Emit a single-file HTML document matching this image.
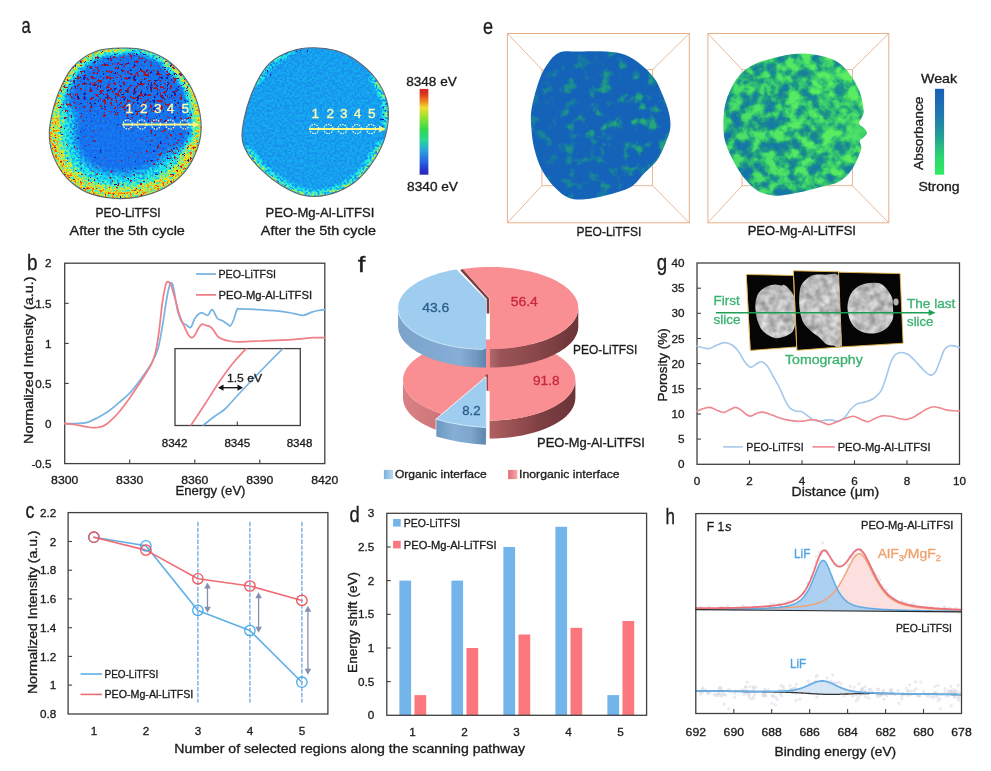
<!DOCTYPE html>
<html><head><meta charset="utf-8"><title>Figure</title>
<style>html,body{margin:0;padding:0;background:#fff;}svg{display:block;font-family:'Liberation Sans', sans-serif;}text{stroke-width:0.32px;}svg{opacity:0.999;}</style></head>
<body><svg width="991" height="771" viewBox="0 0 991 771">
<defs><filter id="soft" x="-5%" y="-5%" width="110%" height="110%"><feGaussianBlur stdDeviation="0.45"/></filter><filter id="bl4" x="-20%" y="-20%" width="140%" height="140%"><feGaussianBlur stdDeviation="5"/></filter><filter id="bl3" x="-20%" y="-20%" width="140%" height="140%"><feGaussianBlur stdDeviation="2.6"/></filter><filter id="bl6" x="-20%" y="-20%" width="140%" height="140%"><feGaussianBlur stdDeviation="10"/></filter><filter id="ha1" x="0" y="0" width="100%" height="100%" color-interpolation-filters="sRGB">
<feTurbulence type="fractalNoise" baseFrequency="0.4" numOctaves="2" seed="4" result="t"/>
<feColorMatrix in="t" type="matrix" values="0 0 0 0 1  0 0 0 0 0  0 0 1 0 0  0 0 0 0 1" result="n"/>
<feComponentTransfer in="n" result="n2"><feFuncB type="linear" slope="2.3" intercept="-0.65"/></feComponentTransfer>
<feComposite in="SourceGraphic" in2="n2" operator="arithmetic" k1="1" k2="0" k3="0" k4="0" result="p"/>
<feColorMatrix in="p" type="matrix" values="1 0 1 0 0  1 0 1 0 0  1 0 1 0 0  0 0 0 1 0" result="v"/>
<feComponentTransfer in="v"><feFuncR type="table" tableValues="0.080 0.080 0.080 0.080 0.080 0.080 0.080 0.300 0.520 0.740 0.960 0.960 0.960 0.960 0.960 0.740 0.520"/><feFuncG type="table" tableValues="0.060 0.060 0.060 0.275 0.490 0.705 0.920 0.920 0.920 0.920 0.920 0.705 0.490 0.275 0.060 0.060 0.060"/><feFuncB type="table" tableValues="0.510 0.725 0.940 0.940 0.940 0.940 0.940 0.725 0.510 0.295 0.080 0.080 0.080 0.080 0.080 0.080 0.080"/></feComponentTransfer>
</filter><clipPath id="ca1"><path d="M124.1,48.0C116.0,48.2 104.1,48.2 95.6,51.4C87.0,54.6 79.0,60.2 72.8,67.1C66.6,74.0 62.2,83.8 58.5,92.8C54.8,101.8 52.0,113.7 50.5,121.3C49.0,128.9 48.8,132.2 49.4,138.4C50.0,144.6 51.3,151.7 54.3,158.4C57.2,165.1 61.6,172.7 67.1,178.4C72.6,184.1 79.5,189.3 87.1,192.6C94.7,195.9 104.2,197.6 112.7,198.3C121.2,199.0 129.8,198.6 138.4,196.9C147.0,195.2 156.5,192.3 164.1,188.3C171.7,184.3 178.6,179.1 184.1,172.7C189.6,166.3 194.1,157.4 196.9,149.8C199.8,142.2 201.2,135.1 201.2,127.0C201.2,118.9 199.5,109.4 196.9,101.3C194.3,93.2 190.5,85.4 185.5,78.5C180.5,71.6 173.8,64.8 166.9,60.0C160.0,55.2 151.2,52.0 144.1,50.0C137.0,48.0 132.2,47.8 124.1,48.0Z"/></clipPath><filter id="sr1" x="0" y="0" width="100%" height="100%" color-interpolation-filters="sRGB">
<feTurbulence type="fractalNoise" baseFrequency="0.3" numOctaves="2" seed="21" result="t"/>
<feColorMatrix in="t" type="matrix" values="0 0 0 0 1  0 0 0 0 1  0 0 0 0 1  1 0 0 0 0" result="n"/>
<feComposite in="SourceGraphic" in2="n" operator="arithmetic" k1="1" k2="0" k3="0" k4="0" result="m"/>
<feComponentTransfer in="m" result="th"><feFuncA type="discrete" tableValues="0 0 0 0 0 0 1 1 1 1"/></feComponentTransfer>
<feColorMatrix in="th" type="matrix" values="0 0 0 0 0.64  0 0 0 0 0.08  0 0 0 0 0.18  0 0 0 1 0"/>
</filter><filter id="sb1" x="0" y="0" width="100%" height="100%" color-interpolation-filters="sRGB">
<feTurbulence type="fractalNoise" baseFrequency="0.3" numOctaves="2" seed="33" result="t"/>
<feColorMatrix in="t" type="matrix" values="0 0 0 0 1  0 0 0 0 1  0 0 0 0 1  0 1 0 0 0" result="n"/>
<feComposite in="SourceGraphic" in2="n" operator="arithmetic" k1="1" k2="0" k3="0" k4="0" result="m"/>
<feComponentTransfer in="m" result="th"><feFuncA type="discrete" tableValues="0 0 0 0 0 0 1 1 1 1"/></feComponentTransfer>
<feColorMatrix in="th" type="matrix" values="0 0 0 0 0.1  0 0 0 0 0.1  0 0 0 0 0.6  0 0 0 1 0"/>
</filter><filter id="ha2" x="0" y="0" width="100%" height="100%" color-interpolation-filters="sRGB">
<feTurbulence type="fractalNoise" baseFrequency="0.4" numOctaves="2" seed="12" result="t"/>
<feColorMatrix in="t" type="matrix" values="0 0 0 0 1  0 0 0 0 0  0 0 1 0 0  0 0 0 0 1" result="n"/>
<feComponentTransfer in="n" result="n2"><feFuncB type="linear" slope="3.2" intercept="-1.1"/></feComponentTransfer>
<feComposite in="SourceGraphic" in2="n2" operator="arithmetic" k1="1" k2="0" k3="0" k4="0" result="p"/>
<feColorMatrix in="p" type="matrix" values="1 0 1 0 0  1 0 1 0 0  1 0 1 0 0  0 0 0 1 0" result="v"/>
<feComponentTransfer in="v"><feFuncR type="table" tableValues="0.080 0.080 0.080 0.080 0.080 0.080 0.080 0.300 0.520 0.740 0.960 0.960 0.960 0.960 0.960 0.740 0.520"/><feFuncG type="table" tableValues="0.060 0.060 0.060 0.275 0.490 0.705 0.920 0.920 0.920 0.920 0.920 0.705 0.490 0.275 0.060 0.060 0.060"/><feFuncB type="table" tableValues="0.510 0.725 0.940 0.940 0.940 0.940 0.940 0.725 0.510 0.295 0.080 0.080 0.080 0.080 0.080 0.080 0.080"/></feComponentTransfer>
</filter><clipPath id="ca2"><path d="M312.8,47.7C305.2,47.9 297.0,48.9 289.9,51.4C282.8,53.9 275.5,57.8 270.0,62.8C264.5,67.8 260.9,74.0 257.1,81.4C253.3,88.8 249.6,98.0 247.1,107.0C244.6,116.0 242.0,128.0 242.0,135.6C242.0,143.2 243.9,147.0 247.1,152.7C250.3,158.4 255.7,164.3 261.4,169.8C267.1,175.3 274.3,181.2 281.4,185.5C288.5,189.8 296.6,193.9 304.2,195.5C311.8,197.1 319.4,196.7 327.0,195.0C334.6,193.3 343.2,189.7 349.9,185.5C356.6,181.3 361.8,176.2 367.0,169.8C372.2,163.4 377.8,154.6 381.3,147.0C384.8,139.4 386.9,131.8 387.8,124.2C388.8,116.6 389.0,108.9 387.0,101.3C385.0,93.7 380.8,85.4 375.6,78.5C370.4,71.6 362.3,64.7 355.6,60.0C348.9,55.3 342.7,52.5 335.6,50.5C328.5,48.5 320.4,47.6 312.8,47.7Z"/></clipPath><filter id="sb2" x="0" y="0" width="100%" height="100%" color-interpolation-filters="sRGB">
<feTurbulence type="fractalNoise" baseFrequency="0.43" numOctaves="2" seed="7" result="t"/>
<feColorMatrix in="t" type="matrix" values="0 0 0 0 1  0 0 0 0 1  0 0 0 0 1  0 1 0 0 0" result="n"/>
<feComposite in="SourceGraphic" in2="n" operator="arithmetic" k1="1" k2="0" k3="0" k4="0" result="m"/>
<feComponentTransfer in="m" result="th"><feFuncA type="discrete" tableValues="0 0 0 0 0 0 1 1 1 1"/></feComponentTransfer>
<feColorMatrix in="th" type="matrix" values="0 0 0 0 0.08  0 0 0 0 0.12  0 0 0 0 0.62  0 0 0 1 0"/>
</filter><linearGradient id="jetbar" x1="0" y1="0" x2="0" y2="1"><stop offset="0" stop-color="#D2282A"/><stop offset="0.05" stop-color="#D83020"/><stop offset="0.13" stop-color="#EB781E"/><stop offset="0.22" stop-color="#F0DC32"/><stop offset="0.33" stop-color="#96E132"/><stop offset="0.48" stop-color="#32D750"/><stop offset="0.6" stop-color="#28D796"/><stop offset="0.72" stop-color="#2DA0DC"/><stop offset="0.85" stop-color="#2864E1"/><stop offset="0.95" stop-color="#2832C8"/><stop offset="1" stop-color="#2828B4"/></linearGradient><clipPath id="cpb"><rect x="175" y="348.6" width="125.30000000000001" height="76.89999999999998"/></clipPath><filter id="he1" x="0" y="0" width="100%" height="100%" color-interpolation-filters="sRGB">
<feTurbulence type="fractalNoise" baseFrequency="0.085" numOctaves="3" seed="3" result="t"/>
<feColorMatrix in="t" type="matrix" values="0 0 0 0 1  0 0 0 0 0  0 0 1 0 0  0 0 0 0 1" result="n"/>
<feComponentTransfer in="n" result="n2"><feFuncB type="linear" slope="4.5" intercept="-2.4"/></feComponentTransfer>
<feComposite in="SourceGraphic" in2="n2" operator="arithmetic" k1="1" k2="0" k3="0" k4="0" result="p"/>
<feColorMatrix in="p" type="matrix" values="1 0 1 0 0  1 0 1 0 0  1 0 1 0 0  0 0 0 1 0" result="v"/>
<feComponentTransfer in="v"><feFuncR type="table" tableValues="0.08 0.09 0.12 0.22 0.36"/><feFuncG type="table" tableValues="0.39 0.48 0.60 0.80 0.93"/><feFuncB type="table" tableValues="0.725 0.64 0.52 0.43 0.38"/></feComponentTransfer>
</filter><clipPath id="ce1"><path d="M558.5,52.9C564.3,50.2 571.8,51.8 579.8,51.6C587.8,51.4 598.9,51.1 606.4,51.6C613.9,52.1 619.5,52.8 625.0,54.8C630.5,56.8 634.7,59.7 639.6,63.6C644.5,67.5 650.5,73.1 654.3,78.2C658.1,83.3 659.8,88.3 662.2,94.1C664.6,99.9 667.6,107.0 668.9,112.8C670.2,118.6 670.9,123.4 670.2,128.7C669.5,134.0 667.1,139.4 664.9,144.7C662.7,150.0 660.4,155.7 656.9,160.6C653.4,165.5 648.0,169.5 643.6,173.9C639.2,178.3 636.5,183.6 630.3,187.2C624.1,190.8 613.9,193.2 606.4,195.2C598.9,197.2 591.3,198.8 585.1,199.2C578.9,199.6 574.0,199.7 569.1,197.9C564.2,196.1 560.3,193.0 555.9,188.6C551.5,184.2 546.1,177.7 542.6,171.3C539.1,164.9 536.5,157.1 534.6,150.0C532.7,142.9 531.9,135.3 531.4,128.7C530.9,122.0 530.4,117.2 531.4,110.1C532.4,103.0 534.9,93.3 537.2,86.2C539.5,79.1 541.7,73.1 545.2,67.6C548.8,62.0 552.7,55.6 558.5,52.9Z"/></clipPath><radialGradient id="ge1" gradientUnits="userSpaceOnUse" cx="630" cy="120" r="100"><stop offset="0" stop-color="rgb(0,0,158)"/><stop offset="0.5" stop-color="rgb(0,0,128)"/><stop offset="1" stop-color="rgb(0,0,76)"/></radialGradient><filter id="bl2e" x="-30%" y="-30%" width="160%" height="160%"><feGaussianBlur stdDeviation="2"/></filter><filter id="he2" x="0" y="0" width="100%" height="100%" color-interpolation-filters="sRGB">
<feTurbulence type="fractalNoise" baseFrequency="0.085" numOctaves="3" seed="8" result="t"/>
<feColorMatrix in="t" type="matrix" values="0 0 0 0 1  0 0 0 0 0  0 0 1 0 0  0 0 0 0 1" result="n"/>
<feComponentTransfer in="n" result="n2"><feFuncB type="linear" slope="2.6" intercept="-0.75"/></feComponentTransfer>
<feComposite in="SourceGraphic" in2="n2" operator="arithmetic" k1="1" k2="0" k3="0" k4="0" result="p"/>
<feColorMatrix in="p" type="matrix" values="1 0 1 0 0  1 0 1 0 0  1 0 1 0 0  0 0 0 1 0" result="v"/>
<feComponentTransfer in="v"><feFuncR type="table" tableValues="0.08 0.09 0.12 0.22 0.36"/><feFuncG type="table" tableValues="0.39 0.48 0.60 0.80 0.93"/><feFuncB type="table" tableValues="0.725 0.64 0.52 0.43 0.38"/></feComponentTransfer>
</filter><clipPath id="ce2"><path d="M806.4,53.7C797.5,53.2 788.7,54.5 779.8,56.4C770.9,58.3 760.3,61.3 753.2,64.9C746.1,68.5 741.6,72.4 737.2,78.2C732.8,84.0 728.9,92.4 726.6,99.5C724.3,106.6 723.6,113.6 723.4,120.7C723.2,127.8 723.4,134.9 725.3,142.0C727.2,149.1 731.3,157.1 734.6,163.3C737.9,169.5 741.2,174.7 745.2,179.3C749.2,184.0 753.2,188.5 758.5,191.2C763.8,193.9 770.5,195.5 777.1,195.7C783.8,195.9 791.3,194.0 798.4,192.6C805.5,191.2 813.1,189.0 819.7,187.2C826.4,185.4 833.0,184.8 838.3,181.9C843.6,179.0 847.8,175.2 851.6,169.9C855.4,164.6 859.5,154.8 860.9,150.0C862.3,145.2 859.4,143.1 859.8,141.0C860.2,138.9 862.3,138.8 863.5,137.5C864.7,136.2 866.9,134.6 867.0,133.0C867.1,131.4 865.3,129.6 864.0,128.0C862.7,126.4 859.3,125.2 859.0,123.4C858.7,121.6 861.2,119.2 862.0,117.0C862.8,114.8 864.0,114.3 863.6,110.1C863.2,105.8 862.1,97.7 859.6,91.5C857.1,85.3 853.3,78.2 848.9,72.9C844.5,67.6 840.1,62.8 833.0,59.6C825.9,56.4 815.3,54.2 806.4,53.7Z"/></clipPath><radialGradient id="ge2" gradientUnits="userSpaceOnUse" cx="850" cy="110" r="140"><stop offset="0" stop-color="rgb(107,0,153)"/><stop offset="0.5" stop-color="rgb(69,0,178)"/><stop offset="1" stop-color="rgb(38,0,178)"/></radialGradient><linearGradient id="bgbar" x1="0" y1="0" x2="0" y2="1"><stop offset="0" stop-color="#195FB9"/><stop offset="0.3" stop-color="#2078B0"/><stop offset="0.55" stop-color="#259F96"/><stop offset="0.8" stop-color="#2AD870"/><stop offset="1" stop-color="#2CEC60"/></linearGradient><linearGradient id="rside" x1="0" y1="0" x2="1" y2="0"><stop offset="0" stop-color="#B56A6C"/><stop offset="0.45" stop-color="#A85A5C"/><stop offset="0.62" stop-color="#9A4F52"/><stop offset="0.8" stop-color="#7E3F42"/><stop offset="1" stop-color="#6A3437"/></linearGradient><linearGradient id="bside" x1="0" y1="0" x2="1" y2="0"><stop offset="0" stop-color="#6E97BF"/><stop offset="0.35" stop-color="#86AFD6"/><stop offset="0.7" stop-color="#7FA6CB"/><stop offset="1" stop-color="#5C86AE"/></linearGradient><linearGradient id="rside2" x1="0" y1="0" x2="1" y2="0"><stop offset="0" stop-color="#D98084"/><stop offset="0.3" stop-color="#C87276"/><stop offset="0.55" stop-color="#A85A5C"/><stop offset="0.8" stop-color="#7E3F42"/><stop offset="1" stop-color="#6A3437"/></linearGradient><linearGradient id="rsideU" gradientUnits="userSpaceOnUse" x1="490" y1="0" x2="578" y2="0"><stop offset="0" stop-color="#B0686B"/><stop offset="0.12" stop-color="#9A5457"/><stop offset="0.5" stop-color="#8A484B"/><stop offset="1" stop-color="#6A3437"/></linearGradient><linearGradient id="bsideU" gradientUnits="userSpaceOnUse" x1="398" y1="0" x2="486" y2="0"><stop offset="0" stop-color="#7CA3C9"/><stop offset="0.3" stop-color="#7FA8D0"/><stop offset="0.7" stop-color="#86AED6"/><stop offset="0.9" stop-color="#6F97BF"/><stop offset="1" stop-color="#5B84AC"/></linearGradient><linearGradient id="lgb" x1="0" y1="0" x2="1" y2="0"><stop offset="0" stop-color="#7FB0DA"/><stop offset="1" stop-color="#B8DCF5"/></linearGradient><linearGradient id="lgr" x1="0" y1="0" x2="1" y2="0"><stop offset="0" stop-color="#E07078"/><stop offset="1" stop-color="#F9A6AA"/></linearGradient><filter id="tn" x="0" y="0" width="100%" height="100%" color-interpolation-filters="sRGB"><feTurbulence type="fractalNoise" baseFrequency="0.13" numOctaves="2" seed="7" result="n"/><feColorMatrix in="n" type="matrix" values="0.5 0 0 0 0.49  0.5 0 0 0 0.49  0.5 0 0 0 0.49  0 0 0 0 1"/><feComposite in2="SourceGraphic" operator="in"/></filter><filter id="bl1" x="-10%" y="-10%" width="120%" height="120%"><feGaussianBlur stdDeviation="0.6"/></filter><clipPath id="cq2"><path d="M793.7,270.8L838.5,271.8L841.6,346.9L797.2,350.3Z"/></clipPath></defs>
<rect width="991" height="771" fill="#fff"/>
<text x="21.5" y="33.0" font-size="22.5" fill="#1c1c1c" stroke="#1c1c1c" textLength="9.2" lengthAdjust="spacingAndGlyphs" >a</text>
<g clip-path="url(#ca1)"><g filter="url(#soft)"><g filter="url(#ha1)"><rect x="40" y="40" width="170" height="166" fill="rgb(57,0,8)"/><g filter="url(#bl4)"><path d="M50.5,121.3C50.3,124.2 48.8,132.2 49.4,138.4C50.0,144.6 51.3,151.7 54.3,158.4C57.2,165.1 61.6,172.7 67.1,178.4C72.6,184.1 79.5,189.3 87.1,192.6C94.7,195.9 104.2,197.6 112.7,198.3C121.2,199.0 129.8,198.6 138.4,196.9C147.0,195.2 156.5,192.3 164.1,188.3C171.7,184.3 180.8,175.3 184.1,172.7" fill="none" stroke="rgb(74,0,51)" stroke-width="46" stroke-linecap="round"/><path d="M184.1,172.7C186.2,168.9 194.1,157.4 196.9,149.8C199.8,142.2 201.2,135.1 201.2,127.0C201.2,118.9 197.6,105.6 196.9,101.3" fill="none" stroke="rgb(69,0,51)" stroke-width="18" stroke-linecap="round"/><path d="M95.6,51.4C91.8,54.0 79.0,60.2 72.8,67.1C66.6,74.0 62.2,83.8 58.5,92.8C54.8,101.8 51.8,116.5 50.5,121.3" fill="none" stroke="rgb(69,0,51)" stroke-width="14" stroke-linecap="round"/></g><g filter="url(#bl3)"><path d="M50.5,121.3C50.3,124.2 48.8,132.2 49.4,138.4C50.0,144.6 51.3,151.7 54.3,158.4C57.2,165.1 61.6,172.7 67.1,178.4C72.6,184.1 79.5,189.3 87.1,192.6C94.7,195.9 104.2,197.6 112.7,198.3C121.2,199.0 129.8,198.6 138.4,196.9C147.0,195.2 156.5,192.3 164.1,188.3C171.7,184.3 178.6,179.1 184.1,172.7C189.6,166.3 194.8,153.6 196.9,149.8" fill="none" stroke="rgb(102,0,102)" stroke-width="22" stroke-linecap="round"/><path d="M124.1,48.0C119.3,48.6 104.1,48.2 95.6,51.4C87.0,54.6 79.0,60.2 72.8,67.1C66.6,74.0 62.2,83.8 58.5,92.8C54.8,101.8 51.8,116.5 50.5,121.3" fill="none" stroke="rgb(97,0,107)" stroke-width="9"/><path d="M196.9,149.8C197.6,146.0 201.2,135.1 201.2,127.0C201.2,118.9 197.6,105.6 196.9,101.3" fill="none" stroke="rgb(97,0,102)" stroke-width="13"/><path d="M196.9,101.3C195.0,97.5 190.5,85.4 185.5,78.5C180.5,71.6 170.0,63.1 166.9,60.0" fill="none" stroke="rgb(92,0,102)" stroke-width="11"/><path d="M166.9,60.0C163.1,58.3 151.2,52.0 144.1,50.0C137.0,48.0 127.4,48.3 124.1,48.0" fill="none" stroke="rgb(82,0,89)" stroke-width="6"/></g></g><g filter="url(#sr1)"><rect x="40" y="40" width="170" height="166" fill="#fff" fill-opacity="0.79"/><g filter="url(#bl6)"><ellipse cx="128" cy="86" rx="62" ry="30" fill="#fff" fill-opacity="1.00"/><ellipse cx="162" cy="100" rx="28" ry="30" fill="#fff" fill-opacity="0.60"/><ellipse cx="172" cy="152" rx="22" ry="22" fill="#fff" fill-opacity="0.60"/><ellipse cx="105" cy="182" rx="55" ry="10" fill="#fff" fill-opacity="0.40"/><ellipse cx="68" cy="105" rx="10" ry="34" fill="#fff" fill-opacity="0.50"/></g></g><g filter="url(#sb1)"><rect x="40" y="40" width="170" height="166" fill="#fff" fill-opacity="0.76"/><g filter="url(#bl6)"><ellipse cx="128" cy="86" rx="62" ry="30" fill="#fff" fill-opacity="0.55"/><ellipse cx="162" cy="100" rx="28" ry="30" fill="#fff" fill-opacity="0.33"/><ellipse cx="172" cy="152" rx="22" ry="22" fill="#fff" fill-opacity="0.33"/><ellipse cx="105" cy="182" rx="55" ry="10" fill="#fff" fill-opacity="0.22"/><ellipse cx="68" cy="105" rx="10" ry="34" fill="#fff" fill-opacity="0.28"/></g></g></g></g>
<path d="M124.1,48.0C116.0,48.2 104.1,48.2 95.6,51.4C87.0,54.6 79.0,60.2 72.8,67.1C66.6,74.0 62.2,83.8 58.5,92.8C54.8,101.8 52.0,113.7 50.5,121.3C49.0,128.9 48.8,132.2 49.4,138.4C50.0,144.6 51.3,151.7 54.3,158.4C57.2,165.1 61.6,172.7 67.1,178.4C72.6,184.1 79.5,189.3 87.1,192.6C94.7,195.9 104.2,197.6 112.7,198.3C121.2,199.0 129.8,198.6 138.4,196.9C147.0,195.2 156.5,192.3 164.1,188.3C171.7,184.3 178.6,179.1 184.1,172.7C189.6,166.3 194.1,157.4 196.9,149.8C199.8,142.2 201.2,135.1 201.2,127.0C201.2,118.9 199.5,109.4 196.9,101.3C194.3,93.2 190.5,85.4 185.5,78.5C180.5,71.6 173.8,64.8 166.9,60.0C160.0,55.2 151.2,52.0 144.1,50.0C137.0,48.0 132.2,47.8 124.1,48.0Z" fill="none" stroke="#5c6470" stroke-width="1.1" stroke-linejoin="round" stroke-linecap="round" />
<g clip-path="url(#ca2)"><g filter="url(#soft)"><g filter="url(#ha2)"><rect x="235" y="40" width="160" height="164" fill="rgb(69,0,9)"/><g filter="url(#bl3)"><path d="M247.1,152.7C249.5,155.5 255.7,164.3 261.4,169.8C267.1,175.3 274.3,181.2 281.4,185.5C288.5,189.8 296.6,193.9 304.2,195.5C311.8,197.1 319.4,196.7 327.0,195.0C334.6,193.3 343.2,189.7 349.9,185.5C356.6,181.3 361.8,176.2 367.0,169.8C372.2,163.4 378.9,150.8 381.3,147.0" fill="none" stroke="rgb(71,0,92)" stroke-width="8" stroke-linecap="round"/><path d="M387.8,124.2C387.7,120.4 389.0,108.9 387.0,101.3C385.0,93.7 377.5,82.3 375.6,78.5" fill="none" stroke="rgb(66,0,82)" stroke-width="8" stroke-linecap="round"/><path d="M289.9,51.4C286.6,53.3 275.5,57.8 270.0,62.8C264.5,67.8 259.2,78.3 257.1,81.4" fill="none" stroke="rgb(64,0,64)" stroke-width="6" stroke-linecap="round"/></g></g><g filter="url(#sb2)"><rect x="235" y="40" width="160" height="164" fill="#fff" fill-opacity="0.62"/><g filter="url(#bl3)"><ellipse cx="384" cy="112" rx="6" ry="16" fill="#fff" fill-opacity="0.9"/><ellipse cx="300" cy="52" rx="22" ry="5" fill="#fff" fill-opacity="0.6"/><ellipse cx="268" cy="72" rx="8" ry="8" fill="#fff" fill-opacity="0.6"/></g></g></g></g>
<path d="M312.8,47.7C305.2,47.9 297.0,48.9 289.9,51.4C282.8,53.9 275.5,57.8 270.0,62.8C264.5,67.8 260.9,74.0 257.1,81.4C253.3,88.8 249.6,98.0 247.1,107.0C244.6,116.0 242.0,128.0 242.0,135.6C242.0,143.2 243.9,147.0 247.1,152.7C250.3,158.4 255.7,164.3 261.4,169.8C267.1,175.3 274.3,181.2 281.4,185.5C288.5,189.8 296.6,193.9 304.2,195.5C311.8,197.1 319.4,196.7 327.0,195.0C334.6,193.3 343.2,189.7 349.9,185.5C356.6,181.3 361.8,176.2 367.0,169.8C372.2,163.4 377.8,154.6 381.3,147.0C384.8,139.4 386.9,131.8 387.8,124.2C388.8,116.6 389.0,108.9 387.0,101.3C385.0,93.7 380.8,85.4 375.6,78.5C370.4,71.6 362.3,64.7 355.6,60.0C348.9,55.3 342.7,52.5 335.6,50.5C328.5,48.5 320.4,47.6 312.8,47.7Z" fill="none" stroke="#5c6470" stroke-width="1.1" stroke-linejoin="round" stroke-linecap="round" />
<line x1="122.6" y1="124.5" x2="195.4" y2="124.5" stroke="#FFF878" stroke-width="2.1" />
<path d="M199.4,124.5L192.6,121.2L192.6,127.8Z" fill="#FFF878" />
<circle cx="127.7" cy="124.5" r="4.6" fill="none" stroke="#FFFFE0" stroke-width="1.2" stroke-dasharray="1.5 1.1"/>
<text x="129.2" y="113.3" font-size="13.6" fill="#FCFCB0" stroke="#FCFCB0" text-anchor="middle" >1</text>
<circle cx="141.6" cy="124.5" r="4.6" fill="none" stroke="#FFFFE0" stroke-width="1.2" stroke-dasharray="1.5 1.1"/>
<text x="143.8" y="113.3" font-size="13.6" fill="#FCFCB0" stroke="#FCFCB0" text-anchor="middle" >2</text>
<circle cx="155.9" cy="124.5" r="4.6" fill="none" stroke="#FFFFE0" stroke-width="1.2" stroke-dasharray="1.5 1.1"/>
<text x="157.9" y="113.3" font-size="13.6" fill="#FCFCB0" stroke="#FCFCB0" text-anchor="middle" >3</text>
<circle cx="170.2" cy="124.5" r="4.6" fill="none" stroke="#FFFFE0" stroke-width="1.2" stroke-dasharray="1.5 1.1"/>
<text x="170.5" y="113.3" font-size="13.6" fill="#FCFCB0" stroke="#FCFCB0" text-anchor="middle" >4</text>
<circle cx="184.5" cy="124.5" r="4.6" fill="none" stroke="#FFFFE0" stroke-width="1.2" stroke-dasharray="1.5 1.1"/>
<text x="185.2" y="113.3" font-size="13.6" fill="#FCFCB0" stroke="#FCFCB0" text-anchor="middle" >5</text>
<line x1="309.1" y1="129.0" x2="381.9" y2="129.0" stroke="#FFF878" stroke-width="2.1" />
<path d="M385.9,129.0L379.09999999999997,125.7L379.09999999999997,132.3Z" fill="#FFF878" />
<circle cx="314.2" cy="129.0" r="4.6" fill="none" stroke="#FFFFE0" stroke-width="1.2" stroke-dasharray="1.5 1.1"/>
<text x="315.2" y="117.7" font-size="13.6" fill="#FCFCB0" stroke="#FCFCB0" text-anchor="middle" >1</text>
<circle cx="328.3" cy="129.0" r="4.6" fill="none" stroke="#FFFFE0" stroke-width="1.2" stroke-dasharray="1.5 1.1"/>
<text x="330.3" y="117.7" font-size="13.6" fill="#FCFCB0" stroke="#FCFCB0" text-anchor="middle" >2</text>
<circle cx="342.4" cy="129.0" r="4.6" fill="none" stroke="#FFFFE0" stroke-width="1.2" stroke-dasharray="1.5 1.1"/>
<text x="343.9" y="117.7" font-size="13.6" fill="#FCFCB0" stroke="#FCFCB0" text-anchor="middle" >3</text>
<circle cx="356.8" cy="129.0" r="4.6" fill="none" stroke="#FFFFE0" stroke-width="1.2" stroke-dasharray="1.5 1.1"/>
<text x="357.6" y="117.7" font-size="13.6" fill="#FCFCB0" stroke="#FCFCB0" text-anchor="middle" >4</text>
<circle cx="370.9" cy="129.0" r="4.6" fill="none" stroke="#FFFFE0" stroke-width="1.2" stroke-dasharray="1.5 1.1"/>
<text x="371.7" y="117.7" font-size="13.6" fill="#FCFCB0" stroke="#FCFCB0" text-anchor="middle" >5</text>
<rect x="419.6" y="88.9" width="8.8" height="85.8" fill="url(#jetbar)" />
<text x="406.2" y="85.8" font-size="12.4" fill="#1c1c1c" stroke="#1c1c1c" textLength="50.6" lengthAdjust="spacingAndGlyphs" >8348 eV</text>
<text x="407.1" y="191.3" font-size="12.4" fill="#1c1c1c" stroke="#1c1c1c" textLength="50.9" lengthAdjust="spacingAndGlyphs" >8340 eV</text>
<text x="95.4" y="216.8" font-size="12.4" fill="#1c1c1c" stroke="#1c1c1c" textLength="65.2" lengthAdjust="spacingAndGlyphs" >PEO-LiTFSI</text>
<text x="69.6" y="235.4" font-size="12.4" fill="#1c1c1c" stroke="#1c1c1c" textLength="115.3" lengthAdjust="spacingAndGlyphs" >After the 5th cycle</text>
<text x="265.5" y="216.8" font-size="12.4" fill="#1c1c1c" stroke="#1c1c1c" textLength="108.9" lengthAdjust="spacingAndGlyphs" >PEO-Mg-Al-LiTFSI</text>
<text x="260.8" y="235.4" font-size="12.4" fill="#1c1c1c" stroke="#1c1c1c" textLength="115.1" lengthAdjust="spacingAndGlyphs" >After the 5th cycle</text>
<rect x="64.7" y="263.2" width="260.1" height="200.4" fill="none" stroke="#404040" stroke-width="1.3" />
<text x="51.6" y="267.4" font-size="11.7" fill="#1c1c1c" stroke="#1c1c1c" text-anchor="end" >2</text>
<line x1="64.7" y1="303.3" x2="68.7" y2="303.3" stroke="#404040" stroke-width="1.1" />
<text x="51.6" y="307.5" font-size="11.7" fill="#1c1c1c" stroke="#1c1c1c" text-anchor="end" >1.5</text>
<line x1="64.7" y1="343.4" x2="68.7" y2="343.4" stroke="#404040" stroke-width="1.1" />
<text x="51.6" y="347.6" font-size="11.7" fill="#1c1c1c" stroke="#1c1c1c" text-anchor="end" >1</text>
<line x1="64.7" y1="383.4" x2="68.7" y2="383.4" stroke="#404040" stroke-width="1.1" />
<text x="51.6" y="387.6" font-size="11.7" fill="#1c1c1c" stroke="#1c1c1c" text-anchor="end" >0.5</text>
<line x1="64.7" y1="423.5" x2="68.7" y2="423.5" stroke="#404040" stroke-width="1.1" />
<text x="51.6" y="427.7" font-size="11.7" fill="#1c1c1c" stroke="#1c1c1c" text-anchor="end" >0</text>
<text x="51.6" y="467.8" font-size="11.7" fill="#1c1c1c" stroke="#1c1c1c" text-anchor="end" >-0.5</text>
<text x="64.7" y="484.3" font-size="11.7" fill="#1c1c1c" stroke="#1c1c1c" text-anchor="middle" textLength="27.2" lengthAdjust="spacingAndGlyphs" >8300</text>
<line x1="129.7" y1="463.6" x2="129.7" y2="459.6" stroke="#404040" stroke-width="1.1" />
<text x="129.7" y="484.3" font-size="11.7" fill="#1c1c1c" stroke="#1c1c1c" text-anchor="middle" textLength="27.2" lengthAdjust="spacingAndGlyphs" >8330</text>
<line x1="194.8" y1="463.6" x2="194.8" y2="459.6" stroke="#404040" stroke-width="1.1" />
<text x="194.8" y="484.3" font-size="11.7" fill="#1c1c1c" stroke="#1c1c1c" text-anchor="middle" textLength="27.2" lengthAdjust="spacingAndGlyphs" >8360</text>
<line x1="259.8" y1="463.6" x2="259.8" y2="459.6" stroke="#404040" stroke-width="1.1" />
<text x="259.8" y="484.3" font-size="11.7" fill="#1c1c1c" stroke="#1c1c1c" text-anchor="middle" textLength="27.2" lengthAdjust="spacingAndGlyphs" >8390</text>
<text x="324.8" y="484.3" font-size="11.7" fill="#1c1c1c" stroke="#1c1c1c" text-anchor="middle" textLength="27.2" lengthAdjust="spacingAndGlyphs" >8420</text>
<text x="175.6" y="494.8" font-size="12.6" fill="#1c1c1c" stroke="#1c1c1c" textLength="69.9" lengthAdjust="spacingAndGlyphs" >Energy (eV)</text>
<text x="0" y="0" font-size="12.4" fill="#1c1c1c" stroke="#1c1c1c" textLength="167.4" lengthAdjust="spacingAndGlyphs" transform="translate(33.2 443.9) rotate(-90)">Normalized Intensity (a.u.)</text>
<text x="26.9" y="270.4" font-size="22" fill="#1c1c1c" stroke="#1c1c1c" textLength="10.5" lengthAdjust="spacingAndGlyphs" >b</text>
<path d="M64.7,423.5C66.5,423.5 71.9,423.7 75.5,423.5C79.2,423.4 82.8,423.7 86.4,422.7C90.0,421.8 93.6,419.8 97.2,417.9C100.8,416.0 104.4,414.0 108.1,411.5C111.7,409.0 115.3,405.8 118.9,402.7C122.5,399.6 126.1,396.9 129.7,393.1C133.3,389.2 136.9,384.4 140.6,379.4C144.2,374.5 148.5,368.5 151.4,363.4C154.3,358.3 156.1,355.0 157.9,349.0C159.7,343.0 160.8,335.6 162.2,327.3C163.7,319.0 165.3,306.4 166.6,299.3C167.8,292.2 168.9,287.5 169.8,284.8C170.7,282.2 171.3,282.2 172.0,283.2C172.7,284.3 173.3,286.8 174.2,291.3C175.1,295.7 176.1,304.6 177.4,309.7C178.7,314.8 180.3,319.2 181.7,321.7C183.2,324.3 184.8,324.0 186.1,324.9C187.3,325.9 188.4,327.1 189.3,327.3C190.2,327.6 190.6,328.0 191.5,326.5C192.4,325.1 193.5,320.6 194.8,318.5C196.0,316.4 197.8,314.6 199.1,313.7C200.3,312.8 200.9,312.6 202.3,312.9C203.8,313.2 206.3,315.7 207.8,315.3C209.2,314.9 210.1,311.3 211.0,310.5C211.9,309.7 212.1,309.2 213.2,310.5C214.3,311.8 215.9,316.8 217.5,318.5C219.1,320.2 221.3,320.0 222.9,320.9C224.6,321.9 226.0,323.3 227.3,324.1C228.5,324.9 229.4,326.5 230.5,325.7C231.6,324.9 232.7,322.0 233.8,319.3C234.8,316.6 235.9,311.4 237.0,309.7C238.1,308.0 236.5,308.9 240.3,308.9C244.1,308.9 252.9,309.3 259.8,309.7C266.6,310.1 275.7,310.6 281.5,311.3C287.2,312.0 290.8,313.0 294.5,313.7C298.1,314.4 300.2,315.6 303.1,315.3C306.0,315.0 309.3,312.9 311.8,312.1C314.3,311.3 316.1,310.9 318.3,310.5C320.5,310.1 323.7,309.8 324.8,309.7" fill="none" stroke="#78B4E3" stroke-width="1.75" stroke-linejoin="round" stroke-linecap="round" />
<path d="M64.7,423.5C66.1,423.7 70.5,423.9 73.4,424.3C76.3,424.7 79.2,425.4 82.0,425.9C84.9,426.5 88.2,427.3 90.7,427.5C93.2,427.8 95.0,427.8 97.2,427.5C99.4,427.3 101.5,427.0 103.7,425.9C105.9,424.9 107.7,423.4 110.2,421.1C112.7,418.8 115.6,416.2 118.9,412.3C122.1,408.4 126.1,402.9 129.7,397.9C133.3,392.8 136.9,387.4 140.6,381.8C144.2,376.2 148.9,369.3 151.4,364.2C153.9,359.1 154.5,356.9 155.7,351.4C157.0,345.9 157.9,339.4 159.0,331.3C160.1,323.3 161.2,310.9 162.2,303.3C163.3,295.7 164.6,289.3 165.5,285.6C166.4,282.0 166.8,281.8 167.7,281.6C168.6,281.5 169.6,281.9 170.9,284.8C172.2,287.8 173.8,294.2 175.2,299.3C176.7,304.3 178.1,310.9 179.6,315.3C181.0,319.7 182.5,322.5 183.9,325.7C185.4,328.9 187.0,332.5 188.2,334.5C189.5,336.5 190.4,337.6 191.5,337.7C192.6,337.9 193.5,337.1 194.8,335.3C196.0,333.6 197.8,329.2 199.1,327.3C200.3,325.5 201.1,324.4 202.3,324.1C203.6,323.9 205.4,325.3 206.7,325.7C207.9,326.1 208.8,325.9 209.9,326.5C211.0,327.2 211.9,328.1 213.2,329.7C214.4,331.3 215.9,334.5 217.5,336.1C219.1,337.7 220.9,338.6 222.9,339.4C224.9,340.2 226.9,340.6 229.4,341.0C232.0,341.4 233.0,341.8 238.1,341.8C243.2,341.8 252.6,341.2 259.8,341.0C267.0,340.7 274.2,340.6 281.5,340.2C288.7,339.8 297.7,339.0 303.1,338.6C308.5,338.1 310.4,337.9 314.0,337.7C317.6,337.6 323.0,337.7 324.8,337.7" fill="none" stroke="#F07F86" stroke-width="1.75" stroke-linejoin="round" stroke-linecap="round" />
<line x1="196.0" y1="274.0" x2="216.0" y2="274.0" stroke="#78B4E3" stroke-width="1.75" />
<text x="218.5" y="277.7" font-size="11.5" fill="#1c1c1c" stroke="#1c1c1c" textLength="57.5" lengthAdjust="spacingAndGlyphs" >PEO-LiTFSI</text>
<line x1="196.0" y1="294.9" x2="216.0" y2="294.9" stroke="#F07F86" stroke-width="1.75" />
<text x="218.5" y="299.3" font-size="11.5" fill="#1c1c1c" stroke="#1c1c1c" textLength="93.5" lengthAdjust="spacingAndGlyphs" >PEO-Mg-Al-LiTFSI</text>
<rect x="175.0" y="348.6" width="125.3" height="76.9" fill="#fff" stroke="#404040" stroke-width="1.3" />
<line x1="237.3" y1="425.5" x2="237.3" y2="421.5" stroke="#404040" stroke-width="1.1" />
<text x="174.6" y="446.6" font-size="11.4" fill="#1c1c1c" stroke="#1c1c1c" text-anchor="middle" textLength="25.7" lengthAdjust="spacingAndGlyphs" >8342</text>
<text x="237.3" y="446.6" font-size="11.4" fill="#1c1c1c" stroke="#1c1c1c" text-anchor="middle" textLength="25.7" lengthAdjust="spacingAndGlyphs" >8345</text>
<text x="299.5" y="446.6" font-size="11.4" fill="#1c1c1c" stroke="#1c1c1c" text-anchor="middle" textLength="25.7" lengthAdjust="spacingAndGlyphs" >8348</text>
<g clip-path="url(#cpb)">
<path d="M190.5,426.0C192.9,422.3 200.3,411.2 205.0,404.0C209.7,396.8 213.8,389.9 218.5,383.0C223.2,376.1 228.2,369.0 233.5,362.5C238.8,356.0 247.7,347.1 250.5,344.0" fill="none" stroke="#F07F86" stroke-width="1.75" stroke-linejoin="round" stroke-linecap="round" />
<path d="M202.5,426.0C204.2,424.6 209.2,420.3 213.0,417.5C216.8,414.7 221.0,412.6 225.0,409.0C229.0,405.4 232.5,400.8 237.0,396.0C241.5,391.2 246.8,385.5 252.0,380.0C257.2,374.5 262.8,368.8 268.5,363.0C274.2,357.2 283.5,348.0 286.5,345.0" fill="none" stroke="#78B4E3" stroke-width="1.75" stroke-linejoin="round" stroke-linecap="round" />
</g>
<line x1="220.5" y1="387.7" x2="240.5" y2="387.7" stroke="#111" stroke-width="1.3" />
<path d="M218,387.7L223.5,384.6L223.5,390.8Z" fill="#111" />
<path d="M243,387.7L237.5,384.6L237.5,390.8Z" fill="#111" />
<text x="227.0" y="381.5" font-size="11.7" fill="#1c1c1c" stroke="#1c1c1c" textLength="35.0" lengthAdjust="spacingAndGlyphs" >1.5 eV</text>
<rect x="68.1" y="512.6" width="259.8" height="201.4" fill="none" stroke="#404040" stroke-width="1.3" />
<text x="56.3" y="516.9" font-size="11.7" fill="#1c1c1c" stroke="#1c1c1c" text-anchor="end" >2.2</text>
<line x1="68.1" y1="541.5" x2="72.1" y2="541.5" stroke="#404040" stroke-width="1.1" />
<text x="56.3" y="545.6" font-size="11.7" fill="#1c1c1c" stroke="#1c1c1c" text-anchor="end" >2</text>
<line x1="68.1" y1="570.2" x2="72.1" y2="570.2" stroke="#404040" stroke-width="1.1" />
<text x="56.3" y="574.3" font-size="11.7" fill="#1c1c1c" stroke="#1c1c1c" text-anchor="end" >1.8</text>
<line x1="68.1" y1="598.9" x2="72.1" y2="598.9" stroke="#404040" stroke-width="1.1" />
<text x="56.3" y="603.0" font-size="11.7" fill="#1c1c1c" stroke="#1c1c1c" text-anchor="end" >1.6</text>
<line x1="68.1" y1="627.7" x2="72.1" y2="627.7" stroke="#404040" stroke-width="1.1" />
<text x="56.3" y="631.8" font-size="11.7" fill="#1c1c1c" stroke="#1c1c1c" text-anchor="end" >1.4</text>
<line x1="68.1" y1="656.4" x2="72.1" y2="656.4" stroke="#404040" stroke-width="1.1" />
<text x="56.3" y="660.5" font-size="11.7" fill="#1c1c1c" stroke="#1c1c1c" text-anchor="end" >1.2</text>
<line x1="68.1" y1="685.1" x2="72.1" y2="685.1" stroke="#404040" stroke-width="1.1" />
<text x="56.3" y="689.2" font-size="11.7" fill="#1c1c1c" stroke="#1c1c1c" text-anchor="end" >1</text>
<text x="56.3" y="717.9" font-size="11.7" fill="#1c1c1c" stroke="#1c1c1c" text-anchor="end" >0.8</text>
<text x="93.9" y="734.9" font-size="11.7" fill="#1c1c1c" stroke="#1c1c1c" text-anchor="middle" >1</text>
<text x="145.9" y="734.9" font-size="11.7" fill="#1c1c1c" stroke="#1c1c1c" text-anchor="middle" >2</text>
<text x="197.9" y="734.9" font-size="11.7" fill="#1c1c1c" stroke="#1c1c1c" text-anchor="middle" >3</text>
<text x="249.9" y="734.9" font-size="11.7" fill="#1c1c1c" stroke="#1c1c1c" text-anchor="middle" >4</text>
<text x="301.9" y="734.9" font-size="11.7" fill="#1c1c1c" stroke="#1c1c1c" text-anchor="middle" >5</text>
<text x="0" y="0" font-size="12.4" fill="#1c1c1c" stroke="#1c1c1c" textLength="163.5" lengthAdjust="spacingAndGlyphs" transform="translate(36.6 694.0) rotate(-90)">Normalized Intensity (a.u.)</text>
<text x="25.6" y="518.2" font-size="22.5" fill="#1c1c1c" stroke="#1c1c1c" textLength="8.9" lengthAdjust="spacingAndGlyphs" >c</text>
<text x="174.3" y="752.7" font-size="12.6" fill="#1c1c1c" stroke="#1c1c1c" textLength="350.8" lengthAdjust="spacingAndGlyphs" >Number of selected regions along the scanning pathway</text>
<line x1="197.9" y1="521.8" x2="197.9" y2="702.6" stroke="#78AFDF" stroke-width="1.4" stroke-dasharray="4.4 1.5"/>
<line x1="249.9" y1="521.8" x2="249.9" y2="702.6" stroke="#78AFDF" stroke-width="1.4" stroke-dasharray="4.4 1.5"/>
<line x1="301.9" y1="521.8" x2="301.9" y2="702.6" stroke="#78AFDF" stroke-width="1.4" stroke-dasharray="4.4 1.5"/>
<path d="M93.9,537.2L145.9,545.8L197.9,610.4L249.9,630.5L301.9,682.2" fill="none" stroke="#5FAEE6" stroke-width="1.6" stroke-linejoin="round" stroke-linecap="round" />
<path d="M93.9,537.2L145.9,550.1L197.9,578.8L249.9,586.0L301.9,600.4" fill="none" stroke="#F06C74" stroke-width="1.6" stroke-linejoin="round" stroke-linecap="round" />
<circle cx="93.9" cy="537.2" r="5.2" fill="none" stroke="#46AAEB" stroke-width="1.3"/>
<circle cx="145.9" cy="545.8" r="5.2" fill="none" stroke="#46AAEB" stroke-width="1.3"/>
<circle cx="197.9" cy="610.4" r="5.2" fill="none" stroke="#46AAEB" stroke-width="1.3"/>
<circle cx="249.9" cy="630.5" r="5.2" fill="none" stroke="#46AAEB" stroke-width="1.3"/>
<circle cx="301.9" cy="682.2" r="5.2" fill="none" stroke="#46AAEB" stroke-width="1.3"/>
<circle cx="93.9" cy="537.2" r="5.2" fill="none" stroke="#F0505A" stroke-width="1.3"/>
<circle cx="145.9" cy="550.1" r="5.2" fill="none" stroke="#F0505A" stroke-width="1.3"/>
<circle cx="197.9" cy="578.8" r="5.2" fill="none" stroke="#F0505A" stroke-width="1.3"/>
<circle cx="249.9" cy="586.0" r="5.2" fill="none" stroke="#F0505A" stroke-width="1.3"/>
<circle cx="301.9" cy="600.4" r="5.2" fill="none" stroke="#F0505A" stroke-width="1.3"/>
<line x1="207.5" y1="585.4" x2="207.5" y2="609.7" stroke="#868FB0" stroke-width="1.3" />
<path d="M207.5,582.4L204.2,588.4L210.8,588.4Z" fill="#868FB0" />
<path d="M207.5,612.7L204.2,606.7L210.8,606.7Z" fill="#868FB0" />
<line x1="258.6" y1="595.2" x2="258.6" y2="629.8" stroke="#868FB0" stroke-width="1.3" />
<path d="M258.6,592.2L255.3,598.2L261.90000000000003,598.2Z" fill="#868FB0" />
<path d="M258.6,632.8L255.3,626.8L261.90000000000003,626.8Z" fill="#868FB0" />
<line x1="307.9" y1="608.7" x2="307.9" y2="671.7" stroke="#868FB0" stroke-width="1.3" />
<path d="M307.9,605.7L304.59999999999997,611.7L311.2,611.7Z" fill="#868FB0" />
<path d="M307.9,674.7L304.59999999999997,668.7L311.2,668.7Z" fill="#868FB0" />
<line x1="80.5" y1="674.0" x2="102.0" y2="674.0" stroke="#5FAEE6" stroke-width="1.6" />
<text x="104.5" y="677.6" font-size="10.6" fill="#1c1c1c" stroke="#1c1c1c" textLength="53.7" lengthAdjust="spacingAndGlyphs" >PEO-LiTFSI</text>
<line x1="80.5" y1="694.4" x2="102.0" y2="694.4" stroke="#F06C74" stroke-width="1.6" />
<text x="104.5" y="698.0" font-size="10.6" fill="#1c1c1c" stroke="#1c1c1c" textLength="88.8" lengthAdjust="spacingAndGlyphs" >PEO-Mg-Al-LiTFSI</text>
<rect x="399.4" y="580.6" width="11.7" height="134.7" fill="#73B4EB" />
<rect x="414.5" y="695.1" width="11.7" height="20.2" fill="#FA787D" />
<rect x="451.4" y="580.6" width="11.7" height="134.7" fill="#73B4EB" />
<rect x="466.5" y="648.0" width="11.7" height="67.3" fill="#FA787D" />
<rect x="503.4" y="547.0" width="11.7" height="168.3" fill="#73B4EB" />
<rect x="518.5" y="634.5" width="11.7" height="80.8" fill="#FA787D" />
<rect x="555.4" y="526.8" width="11.7" height="188.5" fill="#73B4EB" />
<rect x="570.5" y="627.8" width="11.7" height="87.5" fill="#FA787D" />
<rect x="607.4" y="695.1" width="11.7" height="20.2" fill="#73B4EB" />
<rect x="622.5" y="621.0" width="11.7" height="94.3" fill="#FA787D" />
<rect x="386.8" y="513.3" width="259.8" height="202.0" fill="none" stroke="#404040" stroke-width="1.3" />
<text x="374.2" y="517.3" font-size="11.7" fill="#1c1c1c" stroke="#1c1c1c" text-anchor="end" >3</text>
<line x1="386.8" y1="547.0" x2="390.8" y2="547.0" stroke="#404040" stroke-width="1.1" />
<text x="374.2" y="551.0" font-size="11.7" fill="#1c1c1c" stroke="#1c1c1c" text-anchor="end" >2.5</text>
<line x1="386.8" y1="580.6" x2="390.8" y2="580.6" stroke="#404040" stroke-width="1.1" />
<text x="374.2" y="584.6" font-size="11.7" fill="#1c1c1c" stroke="#1c1c1c" text-anchor="end" >2</text>
<line x1="386.8" y1="614.3" x2="390.8" y2="614.3" stroke="#404040" stroke-width="1.1" />
<text x="374.2" y="618.3" font-size="11.7" fill="#1c1c1c" stroke="#1c1c1c" text-anchor="end" >1.5</text>
<line x1="386.8" y1="648.0" x2="390.8" y2="648.0" stroke="#404040" stroke-width="1.1" />
<text x="374.2" y="652.0" font-size="11.7" fill="#1c1c1c" stroke="#1c1c1c" text-anchor="end" >1</text>
<line x1="386.8" y1="681.6" x2="390.8" y2="681.6" stroke="#404040" stroke-width="1.1" />
<text x="374.2" y="685.6" font-size="11.7" fill="#1c1c1c" stroke="#1c1c1c" text-anchor="end" >0.5</text>
<text x="374.2" y="719.3" font-size="11.7" fill="#1c1c1c" stroke="#1c1c1c" text-anchor="end" >0</text>
<text x="412.6" y="735.6" font-size="11.7" fill="#1c1c1c" stroke="#1c1c1c" text-anchor="middle" >1</text>
<text x="464.6" y="735.6" font-size="11.7" fill="#1c1c1c" stroke="#1c1c1c" text-anchor="middle" >2</text>
<text x="516.6" y="735.6" font-size="11.7" fill="#1c1c1c" stroke="#1c1c1c" text-anchor="middle" >3</text>
<text x="568.6" y="735.6" font-size="11.7" fill="#1c1c1c" stroke="#1c1c1c" text-anchor="middle" >4</text>
<text x="620.6" y="735.6" font-size="11.7" fill="#1c1c1c" stroke="#1c1c1c" text-anchor="middle" >5</text>
<text x="0" y="0" font-size="12.4" fill="#1c1c1c" stroke="#1c1c1c" textLength="100.9" lengthAdjust="spacingAndGlyphs" transform="translate(356.8 672.9) rotate(-90)">Energy shift (eV)</text>
<text x="349.6" y="522.2" font-size="22.5" fill="#1c1c1c" stroke="#1c1c1c" textLength="10.2" lengthAdjust="spacingAndGlyphs" >d</text>
<rect x="393.1" y="519.0" width="7.6" height="7.6" fill="#73B4EB" />
<text x="403.8" y="526.7" font-size="11.4" fill="#1c1c1c" stroke="#1c1c1c" textLength="56.5" lengthAdjust="spacingAndGlyphs" >PEO-LiTFSI</text>
<rect x="393.1" y="540.8" width="7.6" height="7.6" fill="#FA787D" />
<text x="403.8" y="548.5" font-size="11.4" fill="#1c1c1c" stroke="#1c1c1c" textLength="92.8" lengthAdjust="spacingAndGlyphs" >PEO-Mg-Al-LiTFSI</text>
<text x="483.0" y="33.8" font-size="22.5" fill="#1c1c1c" stroke="#1c1c1c" textLength="10.1" lengthAdjust="spacingAndGlyphs" >e</text>
<rect x="507.4" y="33.5" width="181.9" height="189.3" fill="none" stroke="#E9B08A" stroke-width="1.0" />
<rect x="541.9" y="69.6" width="110.7" height="116.1" fill="none" stroke="#E9B08A" stroke-width="0.9" />
<line x1="507.4" y1="33.5" x2="541.9" y2="69.6" stroke="#E9B08A" stroke-width="0.9" />
<line x1="689.3" y1="33.5" x2="652.6" y2="69.6" stroke="#E9B08A" stroke-width="0.9" />
<line x1="507.4" y1="222.8" x2="541.9" y2="185.7" stroke="#E9B08A" stroke-width="0.9" />
<line x1="689.3" y1="222.8" x2="652.6" y2="185.7" stroke="#E9B08A" stroke-width="0.9" />
<rect x="707.9" y="33.5" width="180.9" height="189.3" fill="none" stroke="#E9B08A" stroke-width="1.0" />
<rect x="742.0" y="69.6" width="110.4" height="116.1" fill="none" stroke="#E9B08A" stroke-width="0.9" />
<line x1="707.9" y1="33.5" x2="742.0" y2="69.6" stroke="#E9B08A" stroke-width="0.9" />
<line x1="888.8" y1="33.5" x2="852.4" y2="69.6" stroke="#E9B08A" stroke-width="0.9" />
<line x1="707.9" y1="222.8" x2="742.0" y2="185.7" stroke="#E9B08A" stroke-width="0.9" />
<line x1="888.8" y1="222.8" x2="852.4" y2="185.7" stroke="#E9B08A" stroke-width="0.9" />
<g clip-path="url(#ce1)"><g filter="url(#he1)"><rect x="525" y="45" width="150" height="158" fill="url(#ge1)"/></g></g>
<g clip-path="url(#ce2)"><g filter="url(#he2)"><rect x="718" y="48" width="152" height="152" fill="url(#ge2)"/><ellipse cx="857" cy="133" rx="11" ry="8" fill="rgb(204,0,38)" filter="url(#bl2e)"/></g></g>
<text x="576.6" y="236.4" font-size="12.4" fill="#1c1c1c" stroke="#1c1c1c" textLength="64.7" lengthAdjust="spacingAndGlyphs" >PEO-LiTFSI</text>
<text x="747.7" y="235.0" font-size="12.4" fill="#1c1c1c" stroke="#1c1c1c" textLength="108.3" lengthAdjust="spacingAndGlyphs" >PEO-Mg-Al-LiTFSI</text>
<rect x="935.0" y="88.8" width="9.1" height="85.9" fill="url(#bgbar)" />
<text x="921.0" y="82.5" font-size="12.4" fill="#1c1c1c" stroke="#1c1c1c" textLength="36.0" lengthAdjust="spacingAndGlyphs" >Weak</text>
<text x="918.4" y="190.8" font-size="12.4" fill="#1c1c1c" stroke="#1c1c1c" textLength="41.2" lengthAdjust="spacingAndGlyphs" >Strong</text>
<text x="0" y="0" font-size="12.4" fill="#1c1c1c" stroke="#1c1c1c" textLength="73.3" lengthAdjust="spacingAndGlyphs" transform="translate(923.3 169.9) rotate(-90)">Absorbance</text>
<text x="357.8" y="271.9" font-size="22.5" fill="#1c1c1c" stroke="#1c1c1c" textLength="7.6" lengthAdjust="spacingAndGlyphs" >f</text>
<path d="M575.4,380.0L575.1,383.2L574.3,386.3L573.0,389.5L571.2,392.5L568.8,395.5L566.0,398.4L562.7,401.2L558.9,403.8L554.7,406.3L550.2,408.6L545.2,410.8L539.9,412.8L534.2,414.5L528.3,416.1L522.2,417.4L515.8,418.5L509.3,419.4L502.7,420.0L496.0,420.4L489.2,420.5L482.4,420.4L475.7,420.0L469.1,419.4L462.6,418.5L456.2,417.4L450.1,416.1L444.2,414.5L438.5,412.8L433.2,410.8L428.2,408.6L423.7,406.3L419.5,403.8L415.7,401.2L412.4,398.4L409.6,395.5L407.2,392.5L405.4,389.5L404.1,386.3L403.3,383.2L403.0,380.0L403.0,398.0L403.3,401.2L404.1,404.3L405.4,407.5L407.2,410.5L409.6,413.5L412.4,416.4L415.7,419.2L419.5,421.8L423.7,424.3L428.2,426.6L433.2,428.8L438.5,430.8L444.2,432.5L450.1,434.1L456.2,435.4L462.6,436.5L469.1,437.4L475.7,438.0L482.4,438.4L489.2,438.5L496.0,438.4L502.7,438.0L509.3,437.4L515.8,436.5L522.2,435.4L528.3,434.1L534.2,432.5L539.9,430.8L545.2,428.8L550.2,426.6L554.7,424.3L558.9,421.8L562.7,419.2L566.0,416.4L568.8,413.5L571.2,410.5L573.0,407.5L574.3,404.3L575.1,401.2L575.4,398.0Z" fill="url(#rside2)" />
<ellipse cx="489.2" cy="380" rx="86.2" ry="40.5" fill="#F98E93"/>
<rect x="486.3" y="391.0" width="3.3" height="60.0" fill="#fff" />
<rect x="485.6" y="374.5" width="2.4" height="16.0" fill="#8A4A4E" />
<path d="M485.9,377.2L436.3,419.2L448.0,422.3L460.0,424.6L473.0,426.4L485.9,427.4Z" fill="#fff" stroke="#fff" stroke-width="1.2" stroke-linejoin="round" stroke-linecap="round" />
<path d="M436.3,419.2L448.0,422.3L460.0,424.6L473.0,426.4L485.9,427.4L485.9,444.7L473.0,443.7L460.0,441.9L448.0,439.6L436.3,436.5Z" fill="#fff" stroke="#fff" stroke-width="1.2" stroke-linejoin="round" stroke-linecap="round" />
<path d="M436.3,419.2L448.0,422.3L460.0,424.6L473.0,426.4L485.9,427.4L485.9,444.7L473.0,443.7L460.0,441.9L448.0,439.6L436.3,436.5Z" fill="url(#bside)" />
<path d="M485.9,377.2L436.3,419.2L448.0,422.3L460.0,424.6L473.0,426.4L485.9,427.4Z" fill="#9FCDF0" />
<path d="M436.3,419.2L448.0,422.3L460.0,424.6L473.0,426.4L485.9,427.4" fill="none" stroke="#C9E6FA" stroke-width="1.0" stroke-linejoin="round" stroke-linecap="round" />
<path d="M578.3,308.0L578.2,309.6L578.0,311.2L577.7,312.8L577.2,314.4L576.6,316.0L575.9,317.6L575.0,319.1L574.0,320.7L572.8,322.2L571.6,323.7L570.2,325.2L568.7,326.6L567.0,328.0L565.3,329.4L563.4,330.8L561.4,332.1L559.3,333.4L557.1,334.6L554.8,335.8L552.4,337.0L549.9,338.1L547.3,339.2L544.6,340.2L541.9,341.2L539.0,342.1L536.1,343.0L533.1,343.8L530.0,344.5L526.9,345.2L523.7,345.9L520.5,346.5L517.2,347.0L513.9,347.5L510.5,347.9L507.1,348.2L503.7,348.5L500.3,348.7L496.8,348.9L493.4,349.0L489.9,349.0L489.9,367.5L493.4,367.5L496.8,367.4L500.3,367.2L503.7,367.0L507.1,366.7L510.5,366.4L513.9,366.0L517.2,365.5L520.5,365.0L523.7,364.4L526.9,363.7L530.0,363.0L533.1,362.3L536.1,361.5L539.0,360.6L541.9,359.7L544.6,358.7L547.3,357.7L549.9,356.6L552.4,355.5L554.8,354.3L557.1,353.1L559.3,351.9L561.4,350.6L563.4,349.3L565.3,347.9L567.0,346.5L568.7,345.1L570.2,343.7L571.6,342.2L572.8,340.7L574.0,339.2L575.0,337.6L575.9,336.1L576.6,334.5L577.2,332.9L577.7,331.3L578.0,329.7L578.2,328.1L578.3,326.5Z" fill="url(#rsideU)" />
<path d="M486.0,349.0L482.5,349.0L479.1,348.9L475.7,348.7L472.2,348.5L468.9,348.2L465.5,347.9L462.1,347.5L458.8,347.0L455.6,346.5L452.4,345.9L449.2,345.2L446.1,344.5L443.1,343.8L440.1,343.0L437.2,342.1L434.3,341.2L431.6,340.2L428.9,339.2L426.3,338.1L423.8,337.0L421.5,335.8L419.2,334.6L417.0,333.4L414.9,332.1L412.9,330.8L411.1,329.4L409.3,328.0L407.7,326.6L406.2,325.2L404.8,323.7L403.5,322.2L402.4,320.7L401.4,319.1L400.5,317.6L399.8,316.0L399.2,314.4L398.7,312.8L398.4,311.2L398.2,309.6L398.1,308.0L398.1,326.5L398.2,328.1L398.4,329.7L398.7,331.3L399.2,332.9L399.8,334.5L400.5,336.1L401.4,337.6L402.4,339.2L403.5,340.7L404.8,342.2L406.2,343.7L407.7,345.1L409.3,346.5L411.1,347.9L412.9,349.3L414.9,350.6L417.0,351.9L419.2,353.1L421.5,354.3L423.8,355.5L426.3,356.6L428.9,357.7L431.6,358.7L434.3,359.7L437.2,360.6L440.1,361.5L443.1,362.3L446.1,363.0L449.2,363.7L452.4,364.4L455.6,365.0L458.8,365.5L462.1,366.0L465.5,366.4L468.9,366.7L472.2,367.0L475.7,367.2L479.1,367.4L482.5,367.5L486.0,367.5Z" fill="url(#bsideU)" />
<path d="M489.9,298.6L462.6,269.0L466.8,268.4L471.0,267.9L475.3,267.6L479.6,267.3L484.0,267.1L488.3,267.0L492.7,267.0L497.0,267.1L501.4,267.3L505.7,267.7L510.0,268.1L514.2,268.6L518.3,269.2L522.4,269.9L526.5,270.7L530.4,271.6L534.2,272.5L537.9,273.6L541.5,274.7L545.0,275.9L548.4,277.2L551.6,278.6L554.6,280.1L557.5,281.6L560.2,283.2L562.8,284.8L565.2,286.5L567.4,288.2L569.4,290.0L571.2,291.9L572.8,293.8L574.2,295.7L575.4,297.6L576.4,299.6L577.2,301.6L577.8,303.6L578.1,305.6L578.3,307.6L578.2,309.7L577.9,311.7L577.4,313.7L576.7,315.7L575.8,317.7L574.7,319.6L573.3,321.5L571.8,323.4L570.1,325.3L568.1,327.1L566.0,328.9L563.7,330.6L561.2,332.2L558.5,333.8L555.7,335.4L552.7,336.9L549.5,338.3L546.2,339.6L542.8,340.8L539.3,342.0L535.6,343.1L531.8,344.1L527.9,345.0L523.9,345.8L519.8,346.6L515.7,347.2L511.5,347.8L507.2,348.2L502.9,348.6L498.6,348.8L494.3,349.0L489.9,349.0Z" fill="#F98E93" />
<path d="M462.6,269.0L489.3,298.6L489.3,313.6L486.7,313.6L486.7,299.1L460.2,270.2Z" fill="#7A3E40" />
<path d="M486.3,299.8L486.0,349.0L481.9,349.0L477.8,348.8L473.7,348.6L469.7,348.3L465.7,347.9L461.7,347.4L457.8,346.8L453.9,346.2L450.2,345.4L446.5,344.6L442.8,343.7L439.3,342.7L435.9,341.7L432.6,340.6L429.4,339.4L426.3,338.1L423.4,336.8L420.6,335.4L417.9,333.9L415.4,332.4L413.0,330.8L410.8,329.2L408.8,327.6L406.9,325.9L405.2,324.1L403.7,322.4L402.3,320.5L401.2,318.7L400.2,316.9L399.4,315.0L398.8,313.1L398.4,311.2L398.1,309.3L398.1,307.4L398.3,305.4L398.6,303.5L399.2,301.6L399.9,299.8L400.8,297.9L401.9,296.1L403.2,294.2L404.7,292.5L406.3,290.7L408.1,289.0L410.1,287.3L412.3,285.7L414.6,284.1L417.0,282.6L419.7,281.1L422.4,279.7L425.3,278.3L428.3,277.1L431.5,275.8L434.8,274.7L438.2,273.6L441.7,272.6L445.2,271.7L448.9,270.8L452.7,270.1L456.5,269.4Z" fill="#9FCDF0" />
<path d="M482.9,349.4L479.5,349.3L476.0,349.1L472.6,348.9L469.2,348.6L465.9,348.3L462.5,347.9L459.2,347.4L455.9,346.9L452.7,346.3L449.5,345.7L446.4,345.0L443.4,344.3L440.4,343.5L437.5,342.6L434.6,341.7L431.9,340.7L429.2,339.7L426.6,338.6L424.1,337.5L421.7,336.4L419.4,335.2L417.2,333.9L415.1,332.6L413.1,331.3L411.3,330.0L409.5,328.6L407.9,327.2L406.3,325.7L404.9,324.3L403.7,322.8L402.5,321.2L401.5,319.7L400.6,318.1L399.9,316.6L399.2,315.0L398.8,313.4L398.4,311.8L398.2,310.2L398.1,308.6L398.2,307.0" fill="none" stroke="#CBE7FB" stroke-width="1.0" stroke-linejoin="round" stroke-linecap="round" />
<text x="422.2" y="311.6" font-size="13.4" fill="#2B5C8A" stroke="#2B5C8A" textLength="27.0" lengthAdjust="spacingAndGlyphs" >43.6</text>
<text x="510.7" y="305.6" font-size="13.4" fill="#C8283C" stroke="#C8283C" textLength="27.2" lengthAdjust="spacingAndGlyphs" >56.4</text>
<text x="532.9" y="384.9" font-size="13.4" fill="#C8283C" stroke="#C8283C" textLength="26.6" lengthAdjust="spacingAndGlyphs" >91.8</text>
<text x="462.2" y="414.9" font-size="13.4" fill="#2B5C8A" stroke="#2B5C8A" textLength="18.3" lengthAdjust="spacingAndGlyphs" >8.2</text>
<text x="573.1" y="353.6" font-size="13.2" fill="#1c1c1c" stroke="#1c1c1c" textLength="64.3" lengthAdjust="spacingAndGlyphs" >PEO-LiTFSI</text>
<text x="537.1" y="446.9" font-size="13.2" fill="#1c1c1c" stroke="#1c1c1c" textLength="107.7" lengthAdjust="spacingAndGlyphs" >PEO-Mg-Al-LiTFSI</text>
<rect x="383.9" y="469.9" width="9.2" height="9.2" fill="url(#lgb)" />
<text x="394.9" y="478.4" font-size="11.6" fill="#1c1c1c" stroke="#1c1c1c" textLength="91.9" lengthAdjust="spacingAndGlyphs" >Organic interface</text>
<rect x="508.1" y="469.9" width="9.2" height="9.2" fill="url(#lgr)" />
<text x="519.1" y="478.4" font-size="11.6" fill="#1c1c1c" stroke="#1c1c1c" textLength="100.5" lengthAdjust="spacingAndGlyphs" >Inorganic interface</text>
<rect x="697.0" y="263.0" width="262.5" height="201.3" fill="none" stroke="#404040" stroke-width="1.3" />
<text x="684.6" y="468.4" font-size="11.7" fill="#1c1c1c" stroke="#1c1c1c" text-anchor="end" >0</text>
<line x1="697.0" y1="439.1" x2="701.0" y2="439.1" stroke="#404040" stroke-width="1.1" />
<text x="684.6" y="443.2" font-size="11.7" fill="#1c1c1c" stroke="#1c1c1c" text-anchor="end" >5</text>
<line x1="697.0" y1="414.0" x2="701.0" y2="414.0" stroke="#404040" stroke-width="1.1" />
<text x="684.6" y="418.1" font-size="11.7" fill="#1c1c1c" stroke="#1c1c1c" text-anchor="end" >10</text>
<line x1="697.0" y1="388.8" x2="701.0" y2="388.8" stroke="#404040" stroke-width="1.1" />
<text x="684.6" y="392.9" font-size="11.7" fill="#1c1c1c" stroke="#1c1c1c" text-anchor="end" >15</text>
<line x1="697.0" y1="363.6" x2="701.0" y2="363.6" stroke="#404040" stroke-width="1.1" />
<text x="684.6" y="367.8" font-size="11.7" fill="#1c1c1c" stroke="#1c1c1c" text-anchor="end" >20</text>
<line x1="697.0" y1="338.5" x2="701.0" y2="338.5" stroke="#404040" stroke-width="1.1" />
<text x="684.6" y="342.6" font-size="11.7" fill="#1c1c1c" stroke="#1c1c1c" text-anchor="end" >25</text>
<line x1="697.0" y1="313.3" x2="701.0" y2="313.3" stroke="#404040" stroke-width="1.1" />
<text x="684.6" y="317.4" font-size="11.7" fill="#1c1c1c" stroke="#1c1c1c" text-anchor="end" >30</text>
<line x1="697.0" y1="288.2" x2="701.0" y2="288.2" stroke="#404040" stroke-width="1.1" />
<text x="684.6" y="292.3" font-size="11.7" fill="#1c1c1c" stroke="#1c1c1c" text-anchor="end" >35</text>
<text x="684.6" y="267.1" font-size="11.7" fill="#1c1c1c" stroke="#1c1c1c" text-anchor="end" >40</text>
<text x="697.0" y="484.9" font-size="11.7" fill="#1c1c1c" stroke="#1c1c1c" text-anchor="middle" >0</text>
<line x1="749.5" y1="464.3" x2="749.5" y2="460.3" stroke="#404040" stroke-width="1.1" />
<text x="749.5" y="484.9" font-size="11.7" fill="#1c1c1c" stroke="#1c1c1c" text-anchor="middle" >2</text>
<line x1="802.0" y1="464.3" x2="802.0" y2="460.3" stroke="#404040" stroke-width="1.1" />
<text x="802.0" y="484.9" font-size="11.7" fill="#1c1c1c" stroke="#1c1c1c" text-anchor="middle" >4</text>
<line x1="854.5" y1="464.3" x2="854.5" y2="460.3" stroke="#404040" stroke-width="1.1" />
<text x="854.5" y="484.9" font-size="11.7" fill="#1c1c1c" stroke="#1c1c1c" text-anchor="middle" >6</text>
<line x1="907.0" y1="464.3" x2="907.0" y2="460.3" stroke="#404040" stroke-width="1.1" />
<text x="907.0" y="484.9" font-size="11.7" fill="#1c1c1c" stroke="#1c1c1c" text-anchor="middle" >8</text>
<text x="959.5" y="484.9" font-size="11.7" fill="#1c1c1c" stroke="#1c1c1c" text-anchor="middle" >10</text>
<text x="791.6" y="495.9" font-size="12.6" fill="#1c1c1c" stroke="#1c1c1c" textLength="87.5" lengthAdjust="spacingAndGlyphs" >Distance (μm)</text>
<text x="0" y="0" font-size="12.4" fill="#1c1c1c" stroke="#1c1c1c" textLength="73.4" lengthAdjust="spacingAndGlyphs" transform="translate(666.6 401.6) rotate(-90)">Porosity (%)</text>
<text x="656.8" y="270.2" font-size="22" fill="#1c1c1c" stroke="#1c1c1c" textLength="10.4" lengthAdjust="spacingAndGlyphs" >g</text>
<path d="M697.1,346.0C698.2,346.3 701.6,347.4 703.6,347.8C705.6,348.2 707.3,349.0 709.3,348.6C711.3,348.2 713.2,346.7 715.7,345.7C718.2,344.7 721.6,342.7 724.3,342.6C727.0,342.5 729.7,343.5 732.1,345.0C734.5,346.5 736.4,348.5 738.5,351.4C740.6,354.2 742.9,359.4 744.9,362.1C746.9,364.8 748.8,367.1 750.7,367.4C752.6,367.7 754.6,364.9 756.4,364.0C758.2,363.1 759.6,361.4 761.4,361.7C763.2,362.0 765.2,363.4 767.1,365.7C769.0,368.0 770.7,371.9 772.8,375.7C774.9,379.5 777.8,384.2 779.9,388.5C782.0,392.8 783.9,398.1 785.6,401.4C787.3,404.7 788.2,406.6 789.9,408.2C791.6,409.8 793.7,410.3 795.6,410.9C797.5,411.5 799.4,410.9 801.3,411.6C803.2,412.3 805.1,414.0 807.0,415.3C808.9,416.6 810.8,418.6 812.7,419.6C814.6,420.6 816.5,421.0 818.4,421.1C820.3,421.2 822.0,420.4 824.1,420.2C826.2,420.0 828.4,419.7 830.7,419.9C833.0,420.1 835.4,421.8 837.8,421.3C840.2,420.8 842.9,419.1 845.0,417.1C847.1,415.1 848.7,411.4 850.7,409.2C852.7,407.0 854.7,405.1 857.1,403.9C859.5,402.7 862.3,403.0 865.0,402.1C867.7,401.2 870.9,400.3 873.5,398.5C876.1,396.7 878.7,394.7 880.7,391.4C882.7,388.1 884.1,383.3 885.7,378.5C887.4,373.7 889.1,366.7 890.6,362.8C892.1,358.9 893.2,356.7 894.9,355.0C896.6,353.3 898.5,352.6 900.6,352.5C902.8,352.4 905.4,352.9 907.8,354.3C910.2,355.7 912.3,358.1 914.9,360.7C917.5,363.3 921.0,367.6 923.5,370.0C926.0,372.4 928.0,374.5 929.9,375.0C931.8,375.5 933.3,374.8 934.9,372.8C936.5,370.8 937.7,366.6 939.2,362.8C940.8,359.0 942.5,352.9 944.2,350.0C945.9,347.1 947.4,346.3 949.2,345.7C951.0,345.1 953.2,345.8 954.9,346.1C956.6,346.4 958.5,347.2 959.2,347.4" fill="none" stroke="#A3C8EA" stroke-width="1.6" stroke-linejoin="round" stroke-linecap="round" />
<path d="M697.1,411.3C698.2,410.8 701.5,409.1 703.6,408.5C705.8,407.9 707.9,407.2 710.0,407.4C712.1,407.6 714.1,409.0 716.4,409.9C718.6,410.8 721.2,412.6 723.5,412.5C725.8,412.4 728.0,410.5 730.0,409.6C732.0,408.8 733.9,407.3 735.7,407.4C737.5,407.4 738.9,408.7 740.7,409.9C742.5,411.1 744.7,413.5 746.4,414.5C748.1,415.5 749.0,416.3 750.7,416.1C752.4,415.9 754.4,414.2 756.4,413.5C758.4,412.8 760.5,412.0 762.8,412.1C765.0,412.2 767.3,413.3 769.9,414.2C772.5,415.1 775.6,416.6 778.5,417.5C781.4,418.4 784.1,419.3 787.0,419.9C789.9,420.5 793.0,420.9 795.6,421.1C798.2,421.3 800.3,421.3 802.7,421.1C805.1,420.9 807.8,420.1 809.9,419.9C812.0,419.7 813.7,419.5 815.6,419.9C817.5,420.3 819.4,421.4 821.3,422.1C823.2,422.8 825.6,423.8 827.0,424.2C828.4,424.6 828.3,424.9 829.9,424.5C831.5,424.1 833.9,423.1 836.4,422.1C838.9,421.1 842.1,419.5 845.0,418.5C847.9,417.5 850.9,416.2 853.5,416.3C856.1,416.4 858.3,418.3 860.7,419.2C863.1,420.1 865.4,421.9 867.8,421.8C870.2,421.7 872.5,419.5 874.9,418.5C877.3,417.5 879.5,416.3 882.1,415.9C884.7,415.5 887.8,415.9 890.6,416.3C893.5,416.7 896.7,417.9 899.2,418.5C901.7,419.1 903.5,419.7 905.6,419.6C907.8,419.5 909.6,418.9 912.1,417.8C914.6,416.7 918.0,414.4 920.6,412.8C923.2,411.2 925.6,409.5 927.8,408.5C929.9,407.5 931.6,406.9 933.5,406.8C935.4,406.7 937.1,407.3 939.2,407.8C941.3,408.3 943.9,409.4 946.3,409.9C948.7,410.4 951.2,410.6 953.4,410.8C955.5,411.0 958.2,411.1 959.2,411.1" fill="none" stroke="#EF8891" stroke-width="1.6" stroke-linejoin="round" stroke-linecap="round" />
<line x1="723.2" y1="446.9" x2="742.7" y2="446.9" stroke="#A3C8EA" stroke-width="1.6" />
<text x="746.3" y="451.2" font-size="11.4" fill="#1c1c1c" stroke="#1c1c1c" textLength="57.4" lengthAdjust="spacingAndGlyphs" >PEO-LiTFSI</text>
<line x1="812.5" y1="446.9" x2="834.8" y2="446.9" stroke="#EF8891" stroke-width="1.6" />
<text x="837.7" y="451.2" font-size="11.4" fill="#1c1c1c" stroke="#1c1c1c" textLength="92.8" lengthAdjust="spacingAndGlyphs" >PEO-Mg-Al-LiTFSI</text>
<path d="M746.6,274.5L793.6,275.5L796.8,346.9L750.6,350.4Z" fill="#050505" stroke="#E8B64A" stroke-width="0.9" stroke-linejoin="round" stroke-linecap="round" />
<g filter="url(#bl1)"><path d="M775.0,284.5C777.2,284.4 779.5,285.4 781.0,285.5C782.5,285.6 782.7,284.2 784.0,284.8C785.3,285.4 787.3,287.1 789.0,289.0C790.7,290.9 792.9,293.3 794.0,296.0C795.1,298.7 795.2,301.0 795.5,305.0C795.8,309.0 796.2,315.7 795.8,320.0C795.4,324.3 794.6,328.3 793.0,331.0C791.4,333.7 788.8,334.8 786.0,336.0C783.2,337.2 779.0,338.4 776.0,338.2C773.0,338.0 770.3,336.4 768.0,335.0C765.7,333.6 763.7,332.2 762.0,330.0C760.3,327.8 759.0,324.7 758.0,322.0C757.0,319.3 756.4,317.0 756.0,314.0C755.6,311.0 755.1,307.2 755.4,304.0C755.6,300.8 756.4,297.4 757.5,295.0C758.6,292.6 760.2,291.0 762.0,289.5C763.8,288.0 765.8,286.8 768.0,286.0C770.2,285.2 772.8,284.6 775.0,284.5Z" fill="#c2c2c2" filter="url(#tn)"/></g>
<path d="M838.5,272.2L900.1,273.6L903.1,343.2L841.6,346.9Z" fill="#050505" stroke="#E8B64A" stroke-width="0.9" stroke-linejoin="round" stroke-linecap="round" />
<g filter="url(#bl1)"><path d="M870.0,283.0C873.3,282.7 877.5,282.8 880.0,283.5C882.5,284.2 883.5,285.6 885.0,287.0C886.5,288.4 887.8,290.0 889.0,292.0C890.2,294.0 891.8,296.3 892.5,299.0C893.2,301.7 892.9,304.8 893.0,308.0C893.1,311.2 893.8,314.8 893.0,318.0C892.2,321.2 890.2,324.7 888.0,327.0C885.8,329.3 883.0,330.9 880.0,332.0C877.0,333.1 873.3,333.7 870.0,333.5C866.7,333.3 863.0,332.6 860.0,331.0C857.0,329.4 854.0,327.0 852.0,324.0C850.0,321.0 848.7,316.7 848.0,313.0C847.3,309.3 847.3,305.5 848.0,302.0C848.7,298.5 850.0,294.8 852.0,292.0C854.0,289.2 857.0,287.0 860.0,285.5C863.0,284.0 866.7,283.3 870.0,283.0Z" fill="#c2c2c2" filter="url(#tn)"/></g>
<ellipse cx="896" cy="302" rx="2.6" ry="3.4" fill="#b5b5b5" filter="url(#bl1)"/>
<path d="M793.7,270.8L838.5,271.8L841.6,346.9L797.2,350.3Z" fill="#050505" stroke="#E8B64A" stroke-width="0.9" stroke-linejoin="round" stroke-linecap="round" />
<g clip-path="url(#cq2)"><g filter="url(#bl1)"><path d="M812.0,275.5C815.8,274.0 820.6,274.7 825.0,274.8C829.4,274.9 836.0,271.8 838.6,276.0C841.2,280.2 840.1,288.7 840.5,300.0C840.9,311.3 842.5,336.4 841.2,344.0C840.0,351.6 835.5,345.5 833.0,345.5C830.5,345.5 828.2,345.2 826.0,344.0C823.8,342.8 822.5,340.2 820.0,338.0C817.5,335.8 813.8,333.7 811.0,331.0C808.2,328.3 804.9,325.8 803.0,322.0C801.1,318.2 800.1,312.7 799.5,308.0C798.9,303.3 799.1,298.0 799.5,294.0C799.9,290.0 799.9,287.1 802.0,284.0C804.1,280.9 808.2,277.0 812.0,275.5Z" fill="#c2c2c2" filter="url(#tn)"/></g></g>
<line x1="715.9" y1="312.7" x2="930.0" y2="312.7" stroke="#1E9E55" stroke-width="1.5" />
<path d="M935.6,312.7L928.6,309.6L928.6,315.8Z" fill="#1E9E55" />
<text x="713.5" y="305.4" font-size="12.2" fill="#3CB371" stroke="#3CB371" textLength="26.2" lengthAdjust="spacingAndGlyphs" >First</text>
<text x="713.5" y="324.3" font-size="12.2" fill="#3CB371" stroke="#3CB371" textLength="27.0" lengthAdjust="spacingAndGlyphs" >slice</text>
<text x="907.1" y="307.5" font-size="12.2" fill="#3CB371" stroke="#3CB371" textLength="48.1" lengthAdjust="spacingAndGlyphs" >The last</text>
<text x="907.1" y="326.1" font-size="12.2" fill="#3CB371" stroke="#3CB371" textLength="26.3" lengthAdjust="spacingAndGlyphs" >slice</text>
<text x="785.0" y="364.0" font-size="12.2" fill="#3CB371" stroke="#3CB371" textLength="77.7" lengthAdjust="spacingAndGlyphs" >Tomography</text>
<circle cx="860.8" cy="550.0" r="1.1" fill="none" stroke="#D6D6E3" stroke-width="0.7"/>
<circle cx="944.4" cy="606.9" r="1.1" fill="none" stroke="#D6D6E3" stroke-width="0.7"/>
<circle cx="891.4" cy="598.1" r="1.1" fill="none" stroke="#D6D6E3" stroke-width="0.7"/>
<circle cx="819.7" cy="555.4" r="1.1" fill="none" stroke="#D6D6E3" stroke-width="0.7"/>
<circle cx="944.7" cy="607.5" r="1.1" fill="none" stroke="#D6D6E3" stroke-width="0.7"/>
<circle cx="727.4" cy="606.0" r="1.1" fill="none" stroke="#D6D6E3" stroke-width="0.7"/>
<circle cx="820.6" cy="554.1" r="1.1" fill="none" stroke="#D6D6E3" stroke-width="0.7"/>
<circle cx="848.0" cy="565.1" r="1.1" fill="none" stroke="#D6D6E3" stroke-width="0.7"/>
<circle cx="701.2" cy="608.7" r="1.1" fill="none" stroke="#D6D6E3" stroke-width="0.7"/>
<circle cx="937.6" cy="609.8" r="1.1" fill="none" stroke="#D6D6E3" stroke-width="0.7"/>
<circle cx="898.2" cy="603.3" r="1.1" fill="none" stroke="#D6D6E3" stroke-width="0.7"/>
<circle cx="734.1" cy="610.0" r="1.1" fill="none" stroke="#D6D6E3" stroke-width="0.7"/>
<circle cx="859.4" cy="549.9" r="1.1" fill="none" stroke="#D6D6E3" stroke-width="0.7"/>
<circle cx="925.8" cy="607.8" r="1.1" fill="none" stroke="#D6D6E3" stroke-width="0.7"/>
<circle cx="752.6" cy="608.3" r="1.1" fill="none" stroke="#D6D6E3" stroke-width="0.7"/>
<circle cx="926.1" cy="611.6" r="1.1" fill="none" stroke="#D6D6E3" stroke-width="0.7"/>
<circle cx="773.5" cy="607.7" r="1.1" fill="none" stroke="#D6D6E3" stroke-width="0.7"/>
<circle cx="875.2" cy="575.2" r="1.1" fill="none" stroke="#D6D6E3" stroke-width="0.7"/>
<circle cx="751.4" cy="609.4" r="1.1" fill="none" stroke="#D6D6E3" stroke-width="0.7"/>
<circle cx="950.7" cy="608.8" r="1.1" fill="none" stroke="#D6D6E3" stroke-width="0.7"/>
<circle cx="931.7" cy="607.9" r="1.1" fill="none" stroke="#D6D6E3" stroke-width="0.7"/>
<circle cx="741.2" cy="609.1" r="1.1" fill="none" stroke="#D6D6E3" stroke-width="0.7"/>
<circle cx="735.9" cy="609.1" r="1.1" fill="none" stroke="#D6D6E3" stroke-width="0.7"/>
<circle cx="855.6" cy="552.2" r="1.1" fill="none" stroke="#D6D6E3" stroke-width="0.7"/>
<circle cx="698.7" cy="608.0" r="1.1" fill="none" stroke="#D6D6E3" stroke-width="0.7"/>
<circle cx="778.9" cy="604.0" r="1.1" fill="none" stroke="#D6D6E3" stroke-width="0.7"/>
<circle cx="912.0" cy="604.6" r="1.1" fill="none" stroke="#D6D6E3" stroke-width="0.7"/>
<circle cx="823.7" cy="551.0" r="1.1" fill="none" stroke="#D6D6E3" stroke-width="0.7"/>
<circle cx="882.2" cy="593.9" r="1.1" fill="none" stroke="#D6D6E3" stroke-width="0.7"/>
<circle cx="703.8" cy="609.7" r="1.1" fill="none" stroke="#D6D6E3" stroke-width="0.7"/>
<circle cx="894.0" cy="599.7" r="1.1" fill="none" stroke="#D6D6E3" stroke-width="0.7"/>
<circle cx="904.0" cy="603.7" r="1.1" fill="none" stroke="#D6D6E3" stroke-width="0.7"/>
<circle cx="793.6" cy="601.0" r="1.1" fill="none" stroke="#D6D6E3" stroke-width="0.7"/>
<circle cx="710.0" cy="608.4" r="1.1" fill="none" stroke="#D6D6E3" stroke-width="0.7"/>
<circle cx="745.1" cy="608.6" r="1.1" fill="none" stroke="#D6D6E3" stroke-width="0.7"/>
<circle cx="895.6" cy="600.1" r="1.1" fill="none" stroke="#D6D6E3" stroke-width="0.7"/>
<circle cx="941.1" cy="610.1" r="1.1" fill="none" stroke="#D6D6E3" stroke-width="0.7"/>
<circle cx="790.6" cy="601.9" r="1.1" fill="none" stroke="#D6D6E3" stroke-width="0.7"/>
<circle cx="835.1" cy="564.8" r="1.1" fill="none" stroke="#D6D6E3" stroke-width="0.7"/>
<circle cx="893.7" cy="598.4" r="1.1" fill="none" stroke="#D6D6E3" stroke-width="0.7"/>
<circle cx="906.4" cy="604.9" r="1.1" fill="none" stroke="#D6D6E3" stroke-width="0.7"/>
<circle cx="945.3" cy="609.0" r="1.1" fill="none" stroke="#D6D6E3" stroke-width="0.7"/>
<circle cx="721.7" cy="607.4" r="1.1" fill="none" stroke="#D6D6E3" stroke-width="0.7"/>
<circle cx="938.1" cy="610.3" r="1.1" fill="none" stroke="#D6D6E3" stroke-width="0.7"/>
<circle cx="786.8" cy="605.3" r="1.1" fill="none" stroke="#D6D6E3" stroke-width="0.7"/>
<circle cx="779.6" cy="604.3" r="1.1" fill="none" stroke="#D6D6E3" stroke-width="0.7"/>
<circle cx="780.7" cy="605.2" r="1.1" fill="none" stroke="#D6D6E3" stroke-width="0.7"/>
<circle cx="736.8" cy="608.5" r="1.1" fill="none" stroke="#D6D6E3" stroke-width="0.7"/>
<circle cx="878.2" cy="583.2" r="1.1" fill="none" stroke="#D6D6E3" stroke-width="0.7"/>
<circle cx="710.5" cy="608.4" r="1.1" fill="none" stroke="#D6D6E3" stroke-width="0.7"/>
<circle cx="956.0" cy="608.5" r="1.1" fill="none" stroke="#D6D6E3" stroke-width="0.7"/>
<circle cx="759.9" cy="606.8" r="1.1" fill="none" stroke="#D6D6E3" stroke-width="0.7"/>
<circle cx="853.2" cy="555.3" r="1.1" fill="none" stroke="#D6D6E3" stroke-width="0.7"/>
<circle cx="808.2" cy="583.1" r="1.1" fill="none" stroke="#D6D6E3" stroke-width="0.7"/>
<circle cx="712.4" cy="608.7" r="1.1" fill="none" stroke="#D6D6E3" stroke-width="0.7"/>
<circle cx="827.0" cy="551.9" r="1.1" fill="none" stroke="#D6D6E3" stroke-width="0.7"/>
<circle cx="917.2" cy="608.3" r="1.1" fill="none" stroke="#D6D6E3" stroke-width="0.7"/>
<circle cx="946.4" cy="610.8" r="1.1" fill="none" stroke="#D6D6E3" stroke-width="0.7"/>
<circle cx="862.8" cy="552.7" r="1.1" fill="none" stroke="#D6D6E3" stroke-width="0.7"/>
<circle cx="811.5" cy="576.6" r="1.1" fill="none" stroke="#D6D6E3" stroke-width="0.7"/>
<circle cx="736.9" cy="608.6" r="1.1" fill="none" stroke="#D6D6E3" stroke-width="0.7"/>
<circle cx="816.4" cy="562.0" r="1.1" fill="none" stroke="#D6D6E3" stroke-width="0.7"/>
<circle cx="959.3" cy="612.0" r="1.1" fill="none" stroke="#D6D6E3" stroke-width="0.7"/>
<circle cx="816.5" cy="556.5" r="1.1" fill="none" stroke="#D6D6E3" stroke-width="0.7"/>
<circle cx="825.6" cy="550.4" r="1.1" fill="none" stroke="#D6D6E3" stroke-width="0.7"/>
<circle cx="774.0" cy="604.3" r="1.1" fill="none" stroke="#D6D6E3" stroke-width="0.7"/>
<circle cx="803.5" cy="594.4" r="1.1" fill="none" stroke="#D6D6E3" stroke-width="0.7"/>
<circle cx="956.5" cy="610.8" r="1.1" fill="none" stroke="#D6D6E3" stroke-width="0.7"/>
<circle cx="949.0" cy="608.4" r="1.1" fill="none" stroke="#D6D6E3" stroke-width="0.7"/>
<circle cx="786.4" cy="602.4" r="1.1" fill="none" stroke="#D6D6E3" stroke-width="0.7"/>
<circle cx="721.1" cy="608.0" r="1.1" fill="none" stroke="#D6D6E3" stroke-width="0.7"/>
<circle cx="924.8" cy="610.0" r="1.1" fill="none" stroke="#D6D6E3" stroke-width="0.7"/>
<circle cx="792.4" cy="602.4" r="1.1" fill="none" stroke="#D6D6E3" stroke-width="0.7"/>
<circle cx="879.6" cy="579.7" r="1.1" fill="none" stroke="#D6D6E3" stroke-width="0.7"/>
<circle cx="871.6" cy="568.8" r="1.1" fill="none" stroke="#D6D6E3" stroke-width="0.7"/>
<circle cx="882.2" cy="585.7" r="1.1" fill="none" stroke="#D6D6E3" stroke-width="0.7"/>
<circle cx="771.3" cy="603.8" r="1.1" fill="none" stroke="#D6D6E3" stroke-width="0.7"/>
<circle cx="878.6" cy="582.8" r="1.1" fill="none" stroke="#D6D6E3" stroke-width="0.7"/>
<circle cx="774.7" cy="607.7" r="1.1" fill="none" stroke="#D6D6E3" stroke-width="0.7"/>
<circle cx="849.8" cy="556.1" r="1.1" fill="none" stroke="#D6D6E3" stroke-width="0.7"/>
<circle cx="700.8" cy="607.6" r="1.1" fill="none" stroke="#D6D6E3" stroke-width="0.7"/>
<circle cx="873.6" cy="572.2" r="1.1" fill="none" stroke="#D6D6E3" stroke-width="0.7"/>
<circle cx="819.0" cy="559.8" r="1.1" fill="none" stroke="#D6D6E3" stroke-width="0.7"/>
<circle cx="906.5" cy="602.6" r="1.1" fill="none" stroke="#D6D6E3" stroke-width="0.7"/>
<circle cx="788.8" cy="601.5" r="1.1" fill="none" stroke="#D6D6E3" stroke-width="0.7"/>
<circle cx="914.5" cy="604.4" r="1.1" fill="none" stroke="#D6D6E3" stroke-width="0.7"/>
<circle cx="789.4" cy="604.6" r="1.1" fill="none" stroke="#D6D6E3" stroke-width="0.7"/>
<circle cx="877.9" cy="576.7" r="1.1" fill="none" stroke="#D6D6E3" stroke-width="0.7"/>
<circle cx="953.3" cy="611.1" r="1.1" fill="none" stroke="#D6D6E3" stroke-width="0.7"/>
<circle cx="836.3" cy="564.5" r="1.1" fill="none" stroke="#D6D6E3" stroke-width="0.7"/>
<circle cx="741.3" cy="609.5" r="1.1" fill="none" stroke="#D6D6E3" stroke-width="0.7"/>
<circle cx="822.7" cy="542.8" r="1.1" fill="none" stroke="#D6D6E3" stroke-width="0.7"/>
<circle cx="878.7" cy="581.8" r="1.1" fill="none" stroke="#D6D6E3" stroke-width="0.7"/>
<circle cx="742.8" cy="605.8" r="1.1" fill="none" stroke="#D6D6E3" stroke-width="0.7"/>
<circle cx="902.0" cy="601.2" r="1.1" fill="none" stroke="#D6D6E3" stroke-width="0.7"/>
<circle cx="807.9" cy="584.3" r="1.1" fill="none" stroke="#D6D6E3" stroke-width="0.7"/>
<circle cx="861.0" cy="551.5" r="1.1" fill="none" stroke="#D6D6E3" stroke-width="0.7"/>
<circle cx="886.3" cy="590.1" r="1.1" fill="none" stroke="#D6D6E3" stroke-width="0.7"/>
<circle cx="705.0" cy="609.2" r="1.1" fill="none" stroke="#D6D6E3" stroke-width="0.7"/>
<circle cx="867.9" cy="564.3" r="1.1" fill="none" stroke="#D6D6E3" stroke-width="0.7"/>
<circle cx="755.1" cy="606.7" r="1.1" fill="none" stroke="#D6D6E3" stroke-width="0.7"/>
<circle cx="708.8" cy="606.8" r="1.1" fill="none" stroke="#D6D6E3" stroke-width="0.7"/>
<circle cx="821.2" cy="553.1" r="1.1" fill="none" stroke="#D6D6E3" stroke-width="0.7"/>
<circle cx="732.7" cy="608.6" r="1.1" fill="none" stroke="#D6D6E3" stroke-width="0.7"/>
<circle cx="780.9" cy="605.3" r="1.1" fill="none" stroke="#D6D6E3" stroke-width="0.7"/>
<circle cx="707.1" cy="609.2" r="1.1" fill="none" stroke="#D6D6E3" stroke-width="0.7"/>
<circle cx="819.6" cy="552.1" r="1.1" fill="none" stroke="#D6D6E3" stroke-width="0.7"/>
<circle cx="852.2" cy="558.3" r="1.1" fill="none" stroke="#D6D6E3" stroke-width="0.7"/>
<circle cx="760.0" cy="607.2" r="1.1" fill="none" stroke="#D6D6E3" stroke-width="0.7"/>
<circle cx="803.9" cy="592.6" r="1.1" fill="none" stroke="#D6D6E3" stroke-width="0.7"/>
<path d="M695.8,608.9L696.5,608.9L697.3,608.9L698.0,608.9L698.8,608.9L699.5,608.9L700.3,608.9L701.0,608.9L701.8,608.9L702.5,608.9L703.3,608.9L704.0,608.9L704.8,608.9L705.5,608.9L706.3,608.9L707.0,608.9L707.8,608.9L708.5,608.9L709.3,608.9L710.0,608.9L710.8,608.9L711.5,608.9L712.3,608.9L713.0,608.9L713.8,608.9L714.5,608.9L715.3,608.9L716.0,608.9L716.8,608.9L717.5,608.9L718.3,608.9L719.0,608.9L719.8,608.9L720.5,608.9L721.3,608.9L722.0,608.9L722.8,608.9L723.5,608.9L724.3,608.9L725.0,608.9L725.8,608.9L726.5,608.9L727.3,608.9L728.0,608.9L728.8,608.9L729.5,608.9L730.3,608.8L731.0,608.8L731.8,608.8L732.5,608.8L733.3,608.8L734.0,608.8L734.8,608.8L735.5,608.8L736.3,608.8L737.0,608.8L737.8,608.8L738.5,608.8L739.3,608.8L740.0,608.8L740.8,608.8L741.5,608.8L742.3,608.8L743.0,608.8L743.8,608.8L744.5,608.7L745.3,608.7L746.0,608.7L746.8,608.7L747.5,608.7L748.3,608.7L749.0,608.7L749.8,608.7L750.5,608.7L751.3,608.7L752.0,608.7L752.8,608.7L753.5,608.6L754.3,608.6L755.0,608.6L755.8,608.6L756.5,608.6L757.3,608.6L758.0,608.6L758.8,608.6L759.5,608.5L760.3,608.5L761.0,608.5L761.8,608.5L762.5,608.5L763.3,608.5L764.0,608.5L764.8,608.4L765.5,608.4L766.3,608.4L767.0,608.4L767.8,608.4L768.5,608.3L769.3,608.3L770.0,608.3L770.8,608.3L771.5,608.3L772.3,608.2L773.0,608.2L773.8,608.2L774.5,608.2L775.3,608.1L776.0,608.1L776.8,608.1L777.5,608.0L778.3,608.0L779.0,608.0L779.8,608.0L780.5,607.9L781.3,607.9L782.0,607.9L782.8,607.8L783.5,607.8L784.3,607.7L785.0,607.7L785.8,607.7L786.5,607.6L787.3,607.6L788.0,607.5L788.8,607.5L789.5,607.4L790.3,607.4L791.0,607.3L791.8,607.3L792.5,607.2L793.3,607.2L794.0,607.1L794.8,607.0L795.5,607.0L796.3,606.9L797.0,606.9L797.8,606.8L798.5,606.7L799.3,606.6L800.0,606.5L800.8,606.5L801.5,606.4L802.3,606.3L803.0,606.2L803.8,606.1L804.5,606.0L805.3,605.9L806.0,605.8L806.8,605.7L807.5,605.5L808.3,605.4L809.0,605.3L809.8,605.1L810.5,605.0L811.3,604.8L812.0,604.7L812.8,604.5L813.5,604.3L814.3,604.1L815.0,603.9L815.8,603.7L816.5,603.5L817.3,603.3L818.0,603.0L818.8,602.7L819.5,602.5L820.3,602.1L821.0,601.8L821.8,601.5L822.5,601.1L823.3,600.8L824.0,600.4L824.8,599.9L825.5,599.5L826.3,599.0L827.0,598.5L827.8,597.9L828.5,597.4L829.3,596.8L830.0,596.1L830.8,595.5L831.5,594.7L832.3,594.0L833.0,593.2L833.8,592.4L834.5,591.5L835.3,590.6L836.0,589.6L836.8,588.6L837.5,587.6L838.3,586.5L839.0,585.4L839.8,584.2L840.5,582.9L841.3,581.7L842.0,580.4L842.8,579.0L843.5,577.6L844.3,576.2L845.0,574.7L845.8,573.3L846.5,571.8L847.3,570.2L848.0,568.7L848.8,567.2L849.5,565.7L850.3,564.3L851.0,562.8L851.8,561.4L852.5,560.1L853.3,558.9L854.0,557.8L854.8,556.8L855.5,555.9L856.3,555.1L857.0,554.5L857.8,554.1L858.5,553.8L859.3,553.8L860.0,553.8L860.8,554.1L861.5,554.6L862.3,555.2L863.0,555.9L863.8,556.8L864.5,557.9L865.3,559.0L866.0,560.2L866.8,561.6L867.5,563.0L868.3,564.4L869.0,565.9L869.8,567.4L870.5,568.9L871.3,570.4L872.0,572.0L872.8,573.5L873.5,575.0L874.3,576.4L875.0,577.9L875.8,579.3L876.5,580.6L877.3,582.0L878.0,583.3L878.8,584.5L879.5,585.7L880.3,586.8L881.0,587.9L881.8,589.0L882.5,590.0L883.3,591.0L884.0,591.9L884.8,592.8L885.5,593.6L886.3,594.4L887.0,595.2L887.8,595.9L888.5,596.6L889.3,597.3L890.0,597.9L890.8,598.5L891.5,599.0L892.3,599.5L893.0,600.0L893.8,600.5L894.5,600.9L895.3,601.4L896.0,601.7L896.8,602.1L897.5,602.5L898.3,602.8L899.0,603.1L899.8,603.4L900.5,603.7L901.3,603.9L902.0,604.2L902.8,604.4L903.5,604.7L904.3,604.9L905.0,605.1L905.8,605.3L906.5,605.5L907.3,605.6L908.0,605.8L908.8,606.0L909.5,606.1L910.3,606.3L911.0,606.4L911.8,606.5L912.5,606.7L913.3,606.8L914.0,606.9L914.8,607.0L915.5,607.1L916.3,607.2L917.0,607.3L917.8,607.4L918.5,607.5L919.3,607.6L920.0,607.7L920.8,607.8L921.5,607.9L922.3,608.0L923.0,608.0L923.8,608.1L924.5,608.2L925.3,608.3L926.0,608.3L926.8,608.4L927.5,608.5L928.3,608.5L929.0,608.6L929.8,608.7L930.5,608.7L931.3,608.8L932.0,608.8L932.8,608.9L933.5,608.9L934.3,609.0L935.0,609.0L935.8,609.1L936.5,609.1L937.3,609.2L938.0,609.2L938.8,609.3L939.5,609.3L940.3,609.4L941.0,609.4L941.8,609.4L942.5,609.5L943.3,609.5L944.0,609.6L944.8,609.6L945.5,609.6L946.3,609.7L947.0,609.7L947.8,609.7L948.5,609.8L949.3,609.8L950.0,609.8L950.8,609.9L951.5,609.9L952.3,609.9L953.0,610.0L953.8,610.0L954.5,610.0L955.3,610.1L956.0,610.1L956.8,610.1L957.5,610.1L958.3,610.2L959.0,610.2L959.8,610.2L960.5,610.2L961.3,610.3L961.3,611.6L695.8,609.4Z" fill="#FCE0E0" />
<path d="M695.8,609.0L696.5,609.0L697.3,609.0L698.0,609.0L698.8,609.0L699.5,609.1L700.3,609.1L701.0,609.1L701.8,609.1L702.5,609.1L703.3,609.1L704.0,609.1L704.8,609.1L705.5,609.1L706.3,609.1L707.0,609.1L707.8,609.1L708.5,609.1L709.3,609.1L710.0,609.1L710.8,609.1L711.5,609.1L712.3,609.1L713.0,609.1L713.8,609.1L714.5,609.1L715.3,609.1L716.0,609.1L716.8,609.1L717.5,609.1L718.3,609.1L719.0,609.1L719.8,609.1L720.5,609.1L721.3,609.1L722.0,609.1L722.8,609.1L723.5,609.0L724.3,609.0L725.0,609.0L725.8,609.0L726.5,609.0L727.3,609.0L728.0,609.0L728.8,609.0L729.5,609.0L730.3,609.0L731.0,609.0L731.8,609.0L732.5,609.0L733.3,609.0L734.0,609.0L734.8,609.0L735.5,609.0L736.3,609.0L737.0,609.0L737.8,609.0L738.5,609.0L739.3,608.9L740.0,608.9L740.8,608.9L741.5,608.9L742.3,608.9L743.0,608.9L743.8,608.9L744.5,608.9L745.3,608.9L746.0,608.9L746.8,608.8L747.5,608.8L748.3,608.8L749.0,608.8L749.8,608.8L750.5,608.8L751.3,608.8L752.0,608.7L752.8,608.7L753.5,608.7L754.3,608.7L755.0,608.7L755.8,608.6L756.5,608.6L757.3,608.6L758.0,608.6L758.8,608.6L759.5,608.5L760.3,608.5L761.0,608.5L761.8,608.5L762.5,608.4L763.3,608.4L764.0,608.4L764.8,608.3L765.5,608.3L766.3,608.3L767.0,608.2L767.8,608.2L768.5,608.1L769.3,608.1L770.0,608.0L770.8,608.0L771.5,608.0L772.3,607.9L773.0,607.8L773.8,607.8L774.5,607.7L775.3,607.7L776.0,607.6L776.8,607.5L777.5,607.5L778.3,607.4L779.0,607.3L779.8,607.2L780.5,607.1L781.3,607.0L782.0,606.9L782.8,606.8L783.5,606.7L784.3,606.6L785.0,606.5L785.8,606.4L786.5,606.2L787.3,606.1L788.0,605.9L788.8,605.7L789.5,605.5L790.3,605.3L791.0,605.1L791.8,604.9L792.5,604.7L793.3,604.4L794.0,604.1L794.8,603.8L795.5,603.4L796.3,603.1L797.0,602.7L797.8,602.2L798.5,601.7L799.3,601.2L800.0,600.6L800.8,600.0L801.5,599.3L802.3,598.6L803.0,597.8L803.8,596.9L804.5,596.0L805.3,595.0L806.0,593.9L806.8,592.7L807.5,591.5L808.3,590.2L809.0,588.8L809.8,587.3L810.5,585.7L811.3,584.0L812.0,582.3L812.8,580.5L813.5,578.6L814.3,576.7L815.0,574.8L815.8,572.8L816.5,570.9L817.3,569.0L818.0,567.2L818.8,565.6L819.5,564.1L820.3,562.8L821.0,561.8L821.8,561.0L822.5,560.6L823.3,560.5L824.0,560.7L824.8,561.2L825.5,562.1L826.3,563.2L827.0,564.5L827.8,566.1L828.5,567.8L829.3,569.6L830.0,571.5L830.8,573.5L831.5,575.4L832.3,577.4L833.0,579.3L833.8,581.1L834.5,582.9L835.3,584.7L836.0,586.3L836.8,587.9L837.5,589.4L838.3,590.8L839.0,592.1L839.8,593.3L840.5,594.5L841.3,595.6L842.0,596.6L842.8,597.5L843.5,598.4L844.3,599.2L845.0,599.9L845.8,600.6L846.5,601.2L847.3,601.8L848.0,602.3L848.8,602.8L849.5,603.2L850.3,603.6L851.0,604.0L851.8,604.3L852.5,604.7L853.3,605.0L854.0,605.2L854.8,605.5L855.5,605.7L856.3,606.0L857.0,606.2L857.8,606.4L858.5,606.5L859.3,606.7L860.0,606.9L860.8,607.0L861.5,607.2L862.3,607.3L863.0,607.4L863.8,607.5L864.5,607.7L865.3,607.8L866.0,607.9L866.8,608.0L867.5,608.1L868.3,608.2L869.0,608.2L869.8,608.3L870.5,608.4L871.3,608.5L872.0,608.6L872.8,608.6L873.5,608.7L874.3,608.8L875.0,608.8L875.8,608.9L876.5,608.9L877.3,609.0L878.0,609.1L878.8,609.1L879.5,609.2L880.3,609.2L881.0,609.3L881.8,609.3L882.5,609.4L883.3,609.4L884.0,609.4L884.8,609.5L885.5,609.5L886.3,609.6L887.0,609.6L887.8,609.6L888.5,609.7L889.3,609.7L890.0,609.7L890.8,609.8L891.5,609.8L892.3,609.8L893.0,609.9L893.8,609.9L894.5,609.9L895.3,610.0L896.0,610.0L896.8,610.0L897.5,610.0L898.3,610.1L899.0,610.1L899.8,610.1L900.5,610.1L901.3,610.2L902.0,610.2L902.8,610.2L903.5,610.2L904.3,610.3L905.0,610.3L905.8,610.3L906.5,610.3L907.3,610.3L908.0,610.4L908.8,610.4L909.5,610.4L910.3,610.4L911.0,610.4L911.8,610.5L912.5,610.5L913.3,610.5L914.0,610.5L914.8,610.5L915.5,610.5L916.3,610.6L917.0,610.6L917.8,610.6L918.5,610.6L919.3,610.6L920.0,610.6L920.8,610.7L921.5,610.7L922.3,610.7L923.0,610.7L923.8,610.7L924.5,610.7L925.3,610.7L926.0,610.8L926.8,610.8L927.5,610.8L928.3,610.8L929.0,610.8L929.8,610.8L930.5,610.8L931.3,610.9L932.0,610.9L932.8,610.9L933.5,610.9L934.3,610.9L935.0,610.9L935.8,610.9L936.5,610.9L937.3,611.0L938.0,611.0L938.8,611.0L939.5,611.0L940.3,611.0L941.0,611.0L941.8,611.0L942.5,611.0L943.3,611.0L944.0,611.1L944.8,611.1L945.5,611.1L946.3,611.1L947.0,611.1L947.8,611.1L948.5,611.1L949.3,611.1L950.0,611.1L950.8,611.2L951.5,611.2L952.3,611.2L953.0,611.2L953.8,611.2L954.5,611.2L955.3,611.2L956.0,611.2L956.8,611.2L957.5,611.2L958.3,611.3L959.0,611.3L959.8,611.3L960.5,611.3L961.3,611.3L961.3,611.6L695.8,609.4Z" fill="#9FC9EF" fill-opacity="0.88"/>
<path d="M695.8,608.9L696.5,608.9L697.3,608.9L698.0,608.9L698.8,608.9L699.5,608.9L700.3,608.9L701.0,608.9L701.8,608.9L702.5,608.9L703.3,608.9L704.0,608.9L704.8,608.9L705.5,608.9L706.3,608.9L707.0,608.9L707.8,608.9L708.5,608.9L709.3,608.9L710.0,608.9L710.8,608.9L711.5,608.9L712.3,608.9L713.0,608.9L713.8,608.9L714.5,608.9L715.3,608.9L716.0,608.9L716.8,608.9L717.5,608.9L718.3,608.9L719.0,608.9L719.8,608.9L720.5,608.9L721.3,608.9L722.0,608.9L722.8,608.9L723.5,608.9L724.3,608.9L725.0,608.9L725.8,608.9L726.5,608.9L727.3,608.9L728.0,608.9L728.8,608.9L729.5,608.9L730.3,608.8L731.0,608.8L731.8,608.8L732.5,608.8L733.3,608.8L734.0,608.8L734.8,608.8L735.5,608.8L736.3,608.8L737.0,608.8L737.8,608.8L738.5,608.8L739.3,608.8L740.0,608.8L740.8,608.8L741.5,608.8L742.3,608.8L743.0,608.8L743.8,608.8L744.5,608.7L745.3,608.7L746.0,608.7L746.8,608.7L747.5,608.7L748.3,608.7L749.0,608.7L749.8,608.7L750.5,608.7L751.3,608.7L752.0,608.7L752.8,608.7L753.5,608.6L754.3,608.6L755.0,608.6L755.8,608.6L756.5,608.6L757.3,608.6L758.0,608.6L758.8,608.6L759.5,608.5L760.3,608.5L761.0,608.5L761.8,608.5L762.5,608.5L763.3,608.5L764.0,608.5L764.8,608.4L765.5,608.4L766.3,608.4L767.0,608.4L767.8,608.4L768.5,608.3L769.3,608.3L770.0,608.3L770.8,608.3L771.5,608.3L772.3,608.2L773.0,608.2L773.8,608.2L774.5,608.2L775.3,608.1L776.0,608.1L776.8,608.1L777.5,608.0L778.3,608.0L779.0,608.0L779.8,608.0L780.5,607.9L781.3,607.9L782.0,607.9L782.8,607.8L783.5,607.8L784.3,607.7L785.0,607.7L785.8,607.7L786.5,607.6L787.3,607.6L788.0,607.5L788.8,607.5L789.5,607.4L790.3,607.4L791.0,607.3L791.8,607.3L792.5,607.2L793.3,607.2L794.0,607.1L794.8,607.0L795.5,607.0L796.3,606.9L797.0,606.9L797.8,606.8L798.5,606.7L799.3,606.6L800.0,606.5L800.8,606.5L801.5,606.4L802.3,606.3L803.0,606.2L803.8,606.1L804.5,606.0L805.3,605.9L806.0,605.8L806.8,605.7L807.5,605.5L808.3,605.4L809.0,605.3L809.8,605.1L810.5,605.0L811.3,604.8L812.0,604.7L812.8,604.5L813.5,604.3L814.3,604.1L815.0,603.9L815.8,603.7L816.5,603.5L817.3,603.3L818.0,603.0L818.8,602.7L819.5,602.5L820.3,602.1L821.0,601.8L821.8,601.5L822.5,601.1L823.3,600.8L824.0,600.4L824.8,599.9L825.5,599.5L826.3,599.0L827.0,598.5L827.8,597.9L828.5,597.4L829.3,596.8L830.0,596.1L830.8,595.5L831.5,594.7L832.3,594.0L833.0,593.2L833.8,592.4L834.5,591.5L835.3,590.6L836.0,589.6L836.8,588.6L837.5,587.6L838.3,586.5L839.0,585.4L839.8,584.2L840.5,582.9L841.3,581.7L842.0,580.4L842.8,579.0L843.5,577.6L844.3,576.2L845.0,574.7L845.8,573.3L846.5,571.8L847.3,570.2L848.0,568.7L848.8,567.2L849.5,565.7L850.3,564.3L851.0,562.8L851.8,561.4L852.5,560.1L853.3,558.9L854.0,557.8L854.8,556.8L855.5,555.9L856.3,555.1L857.0,554.5L857.8,554.1L858.5,553.8L859.3,553.8L860.0,553.8L860.8,554.1L861.5,554.6L862.3,555.2L863.0,555.9L863.8,556.8L864.5,557.9L865.3,559.0L866.0,560.2L866.8,561.6L867.5,563.0L868.3,564.4L869.0,565.9L869.8,567.4L870.5,568.9L871.3,570.4L872.0,572.0L872.8,573.5L873.5,575.0L874.3,576.4L875.0,577.9L875.8,579.3L876.5,580.6L877.3,582.0L878.0,583.3L878.8,584.5L879.5,585.7L880.3,586.8L881.0,587.9L881.8,589.0L882.5,590.0L883.3,591.0L884.0,591.9L884.8,592.8L885.5,593.6L886.3,594.4L887.0,595.2L887.8,595.9L888.5,596.6L889.3,597.3L890.0,597.9L890.8,598.5L891.5,599.0L892.3,599.5L893.0,600.0L893.8,600.5L894.5,600.9L895.3,601.4L896.0,601.7L896.8,602.1L897.5,602.5L898.3,602.8L899.0,603.1L899.8,603.4L900.5,603.7L901.3,603.9L902.0,604.2L902.8,604.4L903.5,604.7L904.3,604.9L905.0,605.1L905.8,605.3L906.5,605.5L907.3,605.6L908.0,605.8L908.8,606.0L909.5,606.1L910.3,606.3L911.0,606.4L911.8,606.5L912.5,606.7L913.3,606.8L914.0,606.9L914.8,607.0L915.5,607.1L916.3,607.2L917.0,607.3L917.8,607.4L918.5,607.5L919.3,607.6L920.0,607.7L920.8,607.8L921.5,607.9L922.3,608.0L923.0,608.0L923.8,608.1L924.5,608.2L925.3,608.3L926.0,608.3L926.8,608.4L927.5,608.5L928.3,608.5L929.0,608.6L929.8,608.7L930.5,608.7L931.3,608.8L932.0,608.8L932.8,608.9L933.5,608.9L934.3,609.0L935.0,609.0L935.8,609.1L936.5,609.1L937.3,609.2L938.0,609.2L938.8,609.3L939.5,609.3L940.3,609.4L941.0,609.4L941.8,609.4L942.5,609.5L943.3,609.5L944.0,609.6L944.8,609.6L945.5,609.6L946.3,609.7L947.0,609.7L947.8,609.7L948.5,609.8L949.3,609.8L950.0,609.8L950.8,609.9L951.5,609.9L952.3,609.9L953.0,610.0L953.8,610.0L954.5,610.0L955.3,610.1L956.0,610.1L956.8,610.1L957.5,610.1L958.3,610.2L959.0,610.2L959.8,610.2L960.5,610.2L961.3,610.3" fill="none" stroke="#F2A477" stroke-width="1.5" stroke-linejoin="round" stroke-linecap="round" />
<path d="M695.8,609.0L696.5,609.0L697.3,609.0L698.0,609.0L698.8,609.0L699.5,609.1L700.3,609.1L701.0,609.1L701.8,609.1L702.5,609.1L703.3,609.1L704.0,609.1L704.8,609.1L705.5,609.1L706.3,609.1L707.0,609.1L707.8,609.1L708.5,609.1L709.3,609.1L710.0,609.1L710.8,609.1L711.5,609.1L712.3,609.1L713.0,609.1L713.8,609.1L714.5,609.1L715.3,609.1L716.0,609.1L716.8,609.1L717.5,609.1L718.3,609.1L719.0,609.1L719.8,609.1L720.5,609.1L721.3,609.1L722.0,609.1L722.8,609.1L723.5,609.0L724.3,609.0L725.0,609.0L725.8,609.0L726.5,609.0L727.3,609.0L728.0,609.0L728.8,609.0L729.5,609.0L730.3,609.0L731.0,609.0L731.8,609.0L732.5,609.0L733.3,609.0L734.0,609.0L734.8,609.0L735.5,609.0L736.3,609.0L737.0,609.0L737.8,609.0L738.5,609.0L739.3,608.9L740.0,608.9L740.8,608.9L741.5,608.9L742.3,608.9L743.0,608.9L743.8,608.9L744.5,608.9L745.3,608.9L746.0,608.9L746.8,608.8L747.5,608.8L748.3,608.8L749.0,608.8L749.8,608.8L750.5,608.8L751.3,608.8L752.0,608.7L752.8,608.7L753.5,608.7L754.3,608.7L755.0,608.7L755.8,608.6L756.5,608.6L757.3,608.6L758.0,608.6L758.8,608.6L759.5,608.5L760.3,608.5L761.0,608.5L761.8,608.5L762.5,608.4L763.3,608.4L764.0,608.4L764.8,608.3L765.5,608.3L766.3,608.3L767.0,608.2L767.8,608.2L768.5,608.1L769.3,608.1L770.0,608.0L770.8,608.0L771.5,608.0L772.3,607.9L773.0,607.8L773.8,607.8L774.5,607.7L775.3,607.7L776.0,607.6L776.8,607.5L777.5,607.5L778.3,607.4L779.0,607.3L779.8,607.2L780.5,607.1L781.3,607.0L782.0,606.9L782.8,606.8L783.5,606.7L784.3,606.6L785.0,606.5L785.8,606.4L786.5,606.2L787.3,606.1L788.0,605.9L788.8,605.7L789.5,605.5L790.3,605.3L791.0,605.1L791.8,604.9L792.5,604.7L793.3,604.4L794.0,604.1L794.8,603.8L795.5,603.4L796.3,603.1L797.0,602.7L797.8,602.2L798.5,601.7L799.3,601.2L800.0,600.6L800.8,600.0L801.5,599.3L802.3,598.6L803.0,597.8L803.8,596.9L804.5,596.0L805.3,595.0L806.0,593.9L806.8,592.7L807.5,591.5L808.3,590.2L809.0,588.8L809.8,587.3L810.5,585.7L811.3,584.0L812.0,582.3L812.8,580.5L813.5,578.6L814.3,576.7L815.0,574.8L815.8,572.8L816.5,570.9L817.3,569.0L818.0,567.2L818.8,565.6L819.5,564.1L820.3,562.8L821.0,561.8L821.8,561.0L822.5,560.6L823.3,560.5L824.0,560.7L824.8,561.2L825.5,562.1L826.3,563.2L827.0,564.5L827.8,566.1L828.5,567.8L829.3,569.6L830.0,571.5L830.8,573.5L831.5,575.4L832.3,577.4L833.0,579.3L833.8,581.1L834.5,582.9L835.3,584.7L836.0,586.3L836.8,587.9L837.5,589.4L838.3,590.8L839.0,592.1L839.8,593.3L840.5,594.5L841.3,595.6L842.0,596.6L842.8,597.5L843.5,598.4L844.3,599.2L845.0,599.9L845.8,600.6L846.5,601.2L847.3,601.8L848.0,602.3L848.8,602.8L849.5,603.2L850.3,603.6L851.0,604.0L851.8,604.3L852.5,604.7L853.3,605.0L854.0,605.2L854.8,605.5L855.5,605.7L856.3,606.0L857.0,606.2L857.8,606.4L858.5,606.5L859.3,606.7L860.0,606.9L860.8,607.0L861.5,607.2L862.3,607.3L863.0,607.4L863.8,607.5L864.5,607.7L865.3,607.8L866.0,607.9L866.8,608.0L867.5,608.1L868.3,608.2L869.0,608.2L869.8,608.3L870.5,608.4L871.3,608.5L872.0,608.6L872.8,608.6L873.5,608.7L874.3,608.8L875.0,608.8L875.8,608.9L876.5,608.9L877.3,609.0L878.0,609.1L878.8,609.1L879.5,609.2L880.3,609.2L881.0,609.3L881.8,609.3L882.5,609.4L883.3,609.4L884.0,609.4L884.8,609.5L885.5,609.5L886.3,609.6L887.0,609.6L887.8,609.6L888.5,609.7L889.3,609.7L890.0,609.7L890.8,609.8L891.5,609.8L892.3,609.8L893.0,609.9L893.8,609.9L894.5,609.9L895.3,610.0L896.0,610.0L896.8,610.0L897.5,610.0L898.3,610.1L899.0,610.1L899.8,610.1L900.5,610.1L901.3,610.2L902.0,610.2L902.8,610.2L903.5,610.2L904.3,610.3L905.0,610.3L905.8,610.3L906.5,610.3L907.3,610.3L908.0,610.4L908.8,610.4L909.5,610.4L910.3,610.4L911.0,610.4L911.8,610.5L912.5,610.5L913.3,610.5L914.0,610.5L914.8,610.5L915.5,610.5L916.3,610.6L917.0,610.6L917.8,610.6L918.5,610.6L919.3,610.6L920.0,610.6L920.8,610.7L921.5,610.7L922.3,610.7L923.0,610.7L923.8,610.7L924.5,610.7L925.3,610.7L926.0,610.8L926.8,610.8L927.5,610.8L928.3,610.8L929.0,610.8L929.8,610.8L930.5,610.8L931.3,610.9L932.0,610.9L932.8,610.9L933.5,610.9L934.3,610.9L935.0,610.9L935.8,610.9L936.5,610.9L937.3,611.0L938.0,611.0L938.8,611.0L939.5,611.0L940.3,611.0L941.0,611.0L941.8,611.0L942.5,611.0L943.3,611.0L944.0,611.1L944.8,611.1L945.5,611.1L946.3,611.1L947.0,611.1L947.8,611.1L948.5,611.1L949.3,611.1L950.0,611.1L950.8,611.2L951.5,611.2L952.3,611.2L953.0,611.2L953.8,611.2L954.5,611.2L955.3,611.2L956.0,611.2L956.8,611.2L957.5,611.2L958.3,611.3L959.0,611.3L959.8,611.3L960.5,611.3L961.3,611.3" fill="none" stroke="#62AAE3" stroke-width="1.5" stroke-linejoin="round" stroke-linecap="round" />
<path d="M695.8,609.7L961.5,611.9" fill="none" stroke="#2a2a2a" stroke-width="1.2" stroke-linejoin="round" stroke-linecap="round" />
<path d="M695.8,608.2L696.5,608.2L697.3,608.2L698.0,608.2L698.8,608.2L699.5,608.2L700.3,608.2L701.0,608.2L701.8,608.2L702.5,608.2L703.3,608.2L704.0,608.2L704.8,608.2L705.5,608.2L706.3,608.2L707.0,608.2L707.8,608.2L708.5,608.1L709.3,608.1L710.0,608.1L710.8,608.1L711.5,608.1L712.3,608.1L713.0,608.1L713.8,608.1L714.5,608.1L715.3,608.1L716.0,608.1L716.8,608.1L717.5,608.1L718.3,608.1L719.0,608.0L719.8,608.0L720.5,608.0L721.3,608.0L722.0,608.0L722.8,608.0L723.5,608.0L724.3,608.0L725.0,608.0L725.8,608.0L726.5,607.9L727.3,607.9L728.0,607.9L728.8,607.9L729.5,607.9L730.3,607.9L731.0,607.9L731.8,607.9L732.5,607.8L733.3,607.8L734.0,607.8L734.8,607.8L735.5,607.8L736.3,607.8L737.0,607.7L737.8,607.7L738.5,607.7L739.3,607.7L740.0,607.7L740.8,607.6L741.5,607.6L742.3,607.6L743.0,607.6L743.8,607.5L744.5,607.5L745.3,607.5L746.0,607.5L746.8,607.4L747.5,607.4L748.3,607.4L749.0,607.4L749.8,607.3L750.5,607.3L751.3,607.3L752.0,607.2L752.8,607.2L753.5,607.2L754.3,607.1L755.0,607.1L755.8,607.1L756.5,607.0L757.3,607.0L758.0,606.9L758.8,606.9L759.5,606.9L760.3,606.8L761.0,606.8L761.8,606.7L762.5,606.7L763.3,606.6L764.0,606.5L764.8,606.5L765.5,606.4L766.3,606.4L767.0,606.3L767.8,606.2L768.5,606.2L769.3,606.1L770.0,606.0L770.8,606.0L771.5,605.9L772.3,605.8L773.0,605.7L773.8,605.6L774.5,605.5L775.3,605.4L776.0,605.3L776.8,605.2L777.5,605.1L778.3,605.0L779.0,604.9L779.8,604.8L780.5,604.7L781.3,604.5L782.0,604.4L782.8,604.2L783.5,604.1L784.3,603.9L785.0,603.7L785.8,603.6L786.5,603.4L787.3,603.2L788.0,603.0L788.8,602.7L789.5,602.5L790.3,602.3L791.0,602.0L791.8,601.7L792.5,601.4L793.3,601.1L794.0,600.7L794.8,600.3L795.5,599.9L796.3,599.5L797.0,599.0L797.8,598.5L798.5,597.9L799.3,597.3L800.0,596.6L800.8,595.9L801.5,595.1L802.3,594.3L803.0,593.4L803.8,592.4L804.5,591.4L805.3,590.3L806.0,589.1L806.8,587.8L807.5,586.4L808.3,585.0L809.0,583.4L809.8,581.8L810.5,580.0L811.3,578.2L812.0,576.3L812.8,574.3L813.5,572.3L814.3,570.2L815.0,568.0L815.8,565.8L816.5,563.7L817.3,561.6L818.0,559.5L818.8,557.6L819.5,555.8L820.3,554.2L821.0,552.9L821.8,551.8L822.5,551.0L823.3,550.5L824.0,550.3L824.8,550.4L825.5,550.8L826.3,551.4L827.0,552.2L827.8,553.2L828.5,554.4L829.3,555.6L830.0,556.8L830.8,558.1L831.5,559.3L832.3,560.5L833.0,561.6L833.8,562.7L834.5,563.6L835.3,564.4L836.0,565.1L836.8,565.7L837.5,566.1L838.3,566.4L839.0,566.6L839.8,566.6L840.5,566.5L841.3,566.3L842.0,566.0L842.8,565.6L843.5,565.1L844.3,564.4L845.0,563.7L845.8,562.9L846.5,562.0L847.3,561.0L848.0,560.1L848.8,559.0L849.5,558.0L850.3,556.9L851.0,555.8L851.8,554.8L852.5,553.8L853.3,552.9L854.0,552.0L854.8,551.2L855.5,550.6L856.3,550.0L857.0,549.6L857.8,549.4L858.5,549.3L859.3,549.4L860.0,549.6L860.8,550.1L861.5,550.6L862.3,551.4L863.0,552.3L863.8,553.3L864.5,554.4L865.3,555.7L866.0,557.0L866.8,558.4L867.5,559.9L868.3,561.4L869.0,563.0L869.8,564.6L870.5,566.2L871.3,567.8L872.0,569.4L872.8,570.9L873.5,572.5L874.3,574.0L875.0,575.5L875.8,577.0L876.5,578.4L877.3,579.8L878.0,581.1L878.8,582.4L879.5,583.6L880.3,584.8L881.0,586.0L881.8,587.1L882.5,588.1L883.3,589.1L884.0,590.1L884.8,591.0L885.5,591.9L886.3,592.7L887.0,593.5L887.8,594.3L888.5,595.0L889.3,595.7L890.0,596.3L890.8,596.9L891.5,597.5L892.3,598.0L893.0,598.6L893.8,599.1L894.5,599.5L895.3,600.0L896.0,600.4L896.8,600.8L897.5,601.1L898.3,601.5L899.0,601.8L899.8,602.1L900.5,602.4L901.3,602.7L902.0,603.0L902.8,603.2L903.5,603.5L904.3,603.7L905.0,603.9L905.8,604.1L906.5,604.3L907.3,604.5L908.0,604.7L908.8,604.9L909.5,605.0L910.3,605.2L911.0,605.4L911.8,605.5L912.5,605.6L913.3,605.8L914.0,605.9L914.8,606.0L915.5,606.2L916.3,606.3L917.0,606.4L917.8,606.5L918.5,606.6L919.3,606.7L920.0,606.8L920.8,606.9L921.5,607.0L922.3,607.1L923.0,607.2L923.8,607.2L924.5,607.3L925.3,607.4L926.0,607.5L926.8,607.6L927.5,607.6L928.3,607.7L929.0,607.8L929.8,607.8L930.5,607.9L931.3,608.0L932.0,608.0L932.8,608.1L933.5,608.2L934.3,608.2L935.0,608.3L935.8,608.3L936.5,608.4L937.3,608.4L938.0,608.5L938.8,608.5L939.5,608.6L940.3,608.6L941.0,608.7L941.8,608.7L942.5,608.8L943.3,608.8L944.0,608.9L944.8,608.9L945.5,608.9L946.3,609.0L947.0,609.0L947.8,609.1L948.5,609.1L949.3,609.1L950.0,609.2L950.8,609.2L951.5,609.3L952.3,609.3L953.0,609.3L953.8,609.4L954.5,609.4L955.3,609.4L956.0,609.5L956.8,609.5L957.5,609.5L958.3,609.6L959.0,609.6L959.8,609.6L960.5,609.6L961.3,609.7" fill="none" stroke="#EA707A" stroke-width="1.8" stroke-linejoin="round" stroke-linecap="round" />
<circle cx="816.2" cy="676.6" r="1.1" fill="none" stroke="#D6D6E3" stroke-width="0.7"/>
<circle cx="830.7" cy="681.3" r="1.1" fill="none" stroke="#D6D6E3" stroke-width="0.7"/>
<circle cx="746.1" cy="687.2" r="1.1" fill="none" stroke="#D6D6E3" stroke-width="0.7"/>
<circle cx="722.4" cy="690.9" r="1.1" fill="none" stroke="#D6D6E3" stroke-width="0.7"/>
<circle cx="721.5" cy="695.6" r="1.1" fill="none" stroke="#D6D6E3" stroke-width="0.7"/>
<circle cx="954.8" cy="690.2" r="1.1" fill="none" stroke="#D6D6E3" stroke-width="0.7"/>
<circle cx="868.9" cy="689.3" r="1.1" fill="none" stroke="#D6D6E3" stroke-width="0.7"/>
<circle cx="836.1" cy="683.0" r="1.1" fill="none" stroke="#D6D6E3" stroke-width="0.7"/>
<circle cx="747.6" cy="691.5" r="1.1" fill="none" stroke="#D6D6E3" stroke-width="0.7"/>
<circle cx="813.1" cy="684.7" r="1.1" fill="none" stroke="#D6D6E3" stroke-width="0.7"/>
<circle cx="833.7" cy="682.7" r="1.1" fill="none" stroke="#D6D6E3" stroke-width="0.7"/>
<circle cx="817.5" cy="675.5" r="1.1" fill="none" stroke="#D6D6E3" stroke-width="0.7"/>
<circle cx="958.9" cy="700.3" r="1.1" fill="none" stroke="#D6D6E3" stroke-width="0.7"/>
<circle cx="780.3" cy="690.9" r="1.1" fill="none" stroke="#D6D6E3" stroke-width="0.7"/>
<circle cx="773.4" cy="696.1" r="1.1" fill="none" stroke="#D6D6E3" stroke-width="0.7"/>
<circle cx="919.4" cy="696.2" r="1.1" fill="none" stroke="#D6D6E3" stroke-width="0.7"/>
<circle cx="948.5" cy="694.6" r="1.1" fill="none" stroke="#D6D6E3" stroke-width="0.7"/>
<circle cx="936.0" cy="694.2" r="1.1" fill="none" stroke="#D6D6E3" stroke-width="0.7"/>
<circle cx="954.4" cy="693.6" r="1.1" fill="none" stroke="#D6D6E3" stroke-width="0.7"/>
<circle cx="901.5" cy="695.5" r="1.1" fill="none" stroke="#D6D6E3" stroke-width="0.7"/>
<circle cx="720.6" cy="687.3" r="1.1" fill="none" stroke="#D6D6E3" stroke-width="0.7"/>
<circle cx="728.7" cy="708.7" r="1.1" fill="none" stroke="#D6D6E3" stroke-width="0.7"/>
<circle cx="724.2" cy="704.2" r="1.1" fill="none" stroke="#D6D6E3" stroke-width="0.7"/>
<circle cx="844.2" cy="691.3" r="1.1" fill="none" stroke="#D6D6E3" stroke-width="0.7"/>
<circle cx="747.7" cy="691.3" r="1.1" fill="none" stroke="#D6D6E3" stroke-width="0.7"/>
<circle cx="728.3" cy="689.7" r="1.1" fill="none" stroke="#D6D6E3" stroke-width="0.7"/>
<circle cx="753.5" cy="690.5" r="1.1" fill="none" stroke="#D6D6E3" stroke-width="0.7"/>
<circle cx="777.4" cy="699.3" r="1.1" fill="none" stroke="#D6D6E3" stroke-width="0.7"/>
<circle cx="752.9" cy="686.9" r="1.1" fill="none" stroke="#D6D6E3" stroke-width="0.7"/>
<circle cx="724.1" cy="694.8" r="1.1" fill="none" stroke="#D6D6E3" stroke-width="0.7"/>
<circle cx="753.6" cy="691.2" r="1.1" fill="none" stroke="#D6D6E3" stroke-width="0.7"/>
<circle cx="775.3" cy="704.8" r="1.1" fill="none" stroke="#D6D6E3" stroke-width="0.7"/>
<circle cx="721.4" cy="689.2" r="1.1" fill="none" stroke="#D6D6E3" stroke-width="0.7"/>
<circle cx="795.1" cy="689.0" r="1.1" fill="none" stroke="#D6D6E3" stroke-width="0.7"/>
<circle cx="948.8" cy="690.5" r="1.1" fill="none" stroke="#D6D6E3" stroke-width="0.7"/>
<circle cx="745.6" cy="692.5" r="1.1" fill="none" stroke="#D6D6E3" stroke-width="0.7"/>
<circle cx="935.5" cy="696.7" r="1.1" fill="none" stroke="#D6D6E3" stroke-width="0.7"/>
<circle cx="891.3" cy="691.4" r="1.1" fill="none" stroke="#D6D6E3" stroke-width="0.7"/>
<circle cx="749.2" cy="697.4" r="1.1" fill="none" stroke="#D6D6E3" stroke-width="0.7"/>
<circle cx="808.1" cy="681.0" r="1.1" fill="none" stroke="#D6D6E3" stroke-width="0.7"/>
<circle cx="707.9" cy="693.1" r="1.1" fill="none" stroke="#D6D6E3" stroke-width="0.7"/>
<circle cx="765.1" cy="691.0" r="1.1" fill="none" stroke="#D6D6E3" stroke-width="0.7"/>
<circle cx="853.9" cy="691.0" r="1.1" fill="none" stroke="#D6D6E3" stroke-width="0.7"/>
<circle cx="715.8" cy="695.7" r="1.1" fill="none" stroke="#D6D6E3" stroke-width="0.7"/>
<circle cx="844.2" cy="695.8" r="1.1" fill="none" stroke="#D6D6E3" stroke-width="0.7"/>
<circle cx="937.9" cy="685.6" r="1.1" fill="none" stroke="#D6D6E3" stroke-width="0.7"/>
<circle cx="702.1" cy="689.9" r="1.1" fill="none" stroke="#D6D6E3" stroke-width="0.7"/>
<circle cx="743.9" cy="694.7" r="1.1" fill="none" stroke="#D6D6E3" stroke-width="0.7"/>
<circle cx="847.5" cy="692.2" r="1.1" fill="none" stroke="#D6D6E3" stroke-width="0.7"/>
<circle cx="954.4" cy="696.6" r="1.1" fill="none" stroke="#D6D6E3" stroke-width="0.7"/>
<circle cx="878.7" cy="689.4" r="1.1" fill="none" stroke="#D6D6E3" stroke-width="0.7"/>
<circle cx="702.5" cy="690.1" r="1.1" fill="none" stroke="#D6D6E3" stroke-width="0.7"/>
<circle cx="881.2" cy="693.8" r="1.1" fill="none" stroke="#D6D6E3" stroke-width="0.7"/>
<circle cx="824.0" cy="681.9" r="1.1" fill="none" stroke="#D6D6E3" stroke-width="0.7"/>
<circle cx="781.3" cy="692.5" r="1.1" fill="none" stroke="#D6D6E3" stroke-width="0.7"/>
<circle cx="890.7" cy="693.5" r="1.1" fill="none" stroke="#D6D6E3" stroke-width="0.7"/>
<circle cx="890.7" cy="691.9" r="1.1" fill="none" stroke="#D6D6E3" stroke-width="0.7"/>
<circle cx="789.9" cy="685.7" r="1.1" fill="none" stroke="#D6D6E3" stroke-width="0.7"/>
<circle cx="933.5" cy="696.3" r="1.1" fill="none" stroke="#D6D6E3" stroke-width="0.7"/>
<circle cx="923.8" cy="691.8" r="1.1" fill="none" stroke="#D6D6E3" stroke-width="0.7"/>
<circle cx="861.4" cy="689.4" r="1.1" fill="none" stroke="#D6D6E3" stroke-width="0.7"/>
<circle cx="718.8" cy="693.8" r="1.1" fill="none" stroke="#D6D6E3" stroke-width="0.7"/>
<circle cx="957.8" cy="698.1" r="1.1" fill="none" stroke="#D6D6E3" stroke-width="0.7"/>
<circle cx="890.2" cy="690.1" r="1.1" fill="none" stroke="#D6D6E3" stroke-width="0.7"/>
<circle cx="813.1" cy="684.6" r="1.1" fill="none" stroke="#D6D6E3" stroke-width="0.7"/>
<circle cx="705.6" cy="689.9" r="1.1" fill="none" stroke="#D6D6E3" stroke-width="0.7"/>
<circle cx="823.7" cy="682.6" r="1.1" fill="none" stroke="#D6D6E3" stroke-width="0.7"/>
<circle cx="858.6" cy="696.7" r="1.1" fill="none" stroke="#D6D6E3" stroke-width="0.7"/>
<circle cx="764.8" cy="694.0" r="1.1" fill="none" stroke="#D6D6E3" stroke-width="0.7"/>
<circle cx="750.8" cy="692.0" r="1.1" fill="none" stroke="#D6D6E3" stroke-width="0.7"/>
<circle cx="934.8" cy="692.5" r="1.1" fill="none" stroke="#D6D6E3" stroke-width="0.7"/>
<circle cx="783.4" cy="688.5" r="1.1" fill="none" stroke="#D6D6E3" stroke-width="0.7"/>
<circle cx="749.7" cy="686.6" r="1.1" fill="none" stroke="#D6D6E3" stroke-width="0.7"/>
<circle cx="928.2" cy="696.4" r="1.1" fill="none" stroke="#D6D6E3" stroke-width="0.7"/>
<circle cx="850.4" cy="690.3" r="1.1" fill="none" stroke="#D6D6E3" stroke-width="0.7"/>
<circle cx="916.9" cy="695.4" r="1.1" fill="none" stroke="#D6D6E3" stroke-width="0.7"/>
<circle cx="883.9" cy="699.3" r="1.1" fill="none" stroke="#D6D6E3" stroke-width="0.7"/>
<circle cx="815.7" cy="681.1" r="1.1" fill="none" stroke="#D6D6E3" stroke-width="0.7"/>
<circle cx="753.8" cy="687.9" r="1.1" fill="none" stroke="#D6D6E3" stroke-width="0.7"/>
<circle cx="780.3" cy="693.5" r="1.1" fill="none" stroke="#D6D6E3" stroke-width="0.7"/>
<circle cx="954.8" cy="691.6" r="1.1" fill="none" stroke="#D6D6E3" stroke-width="0.7"/>
<circle cx="926.2" cy="695.0" r="1.1" fill="none" stroke="#D6D6E3" stroke-width="0.7"/>
<circle cx="883.2" cy="690.9" r="1.1" fill="none" stroke="#D6D6E3" stroke-width="0.7"/>
<circle cx="702.8" cy="688.0" r="1.1" fill="none" stroke="#D6D6E3" stroke-width="0.7"/>
<circle cx="816.8" cy="697.2" r="1.1" fill="none" stroke="#D6D6E3" stroke-width="0.7"/>
<circle cx="734.7" cy="693.6" r="1.1" fill="none" stroke="#D6D6E3" stroke-width="0.7"/>
<circle cx="862.5" cy="688.4" r="1.1" fill="none" stroke="#D6D6E3" stroke-width="0.7"/>
<circle cx="909.1" cy="695.2" r="1.1" fill="none" stroke="#D6D6E3" stroke-width="0.7"/>
<circle cx="876.9" cy="695.8" r="1.1" fill="none" stroke="#D6D6E3" stroke-width="0.7"/>
<circle cx="700.6" cy="694.1" r="1.1" fill="none" stroke="#D6D6E3" stroke-width="0.7"/>
<circle cx="884.7" cy="694.3" r="1.1" fill="none" stroke="#D6D6E3" stroke-width="0.7"/>
<circle cx="880.3" cy="695.3" r="1.1" fill="none" stroke="#D6D6E3" stroke-width="0.7"/>
<circle cx="858.6" cy="692.2" r="1.1" fill="none" stroke="#D6D6E3" stroke-width="0.7"/>
<circle cx="935.0" cy="686.4" r="1.1" fill="none" stroke="#D6D6E3" stroke-width="0.7"/>
<circle cx="941.9" cy="694.0" r="1.1" fill="none" stroke="#D6D6E3" stroke-width="0.7"/>
<circle cx="861.5" cy="690.7" r="1.1" fill="none" stroke="#D6D6E3" stroke-width="0.7"/>
<circle cx="796.4" cy="684.2" r="1.1" fill="none" stroke="#D6D6E3" stroke-width="0.7"/>
<circle cx="944.9" cy="691.8" r="1.1" fill="none" stroke="#D6D6E3" stroke-width="0.7"/>
<circle cx="868.3" cy="694.0" r="1.1" fill="none" stroke="#D6D6E3" stroke-width="0.7"/>
<circle cx="865.7" cy="697.2" r="1.1" fill="none" stroke="#D6D6E3" stroke-width="0.7"/>
<circle cx="753.6" cy="698.3" r="1.1" fill="none" stroke="#D6D6E3" stroke-width="0.7"/>
<circle cx="838.3" cy="682.1" r="1.1" fill="none" stroke="#D6D6E3" stroke-width="0.7"/>
<circle cx="781.6" cy="696.2" r="1.1" fill="none" stroke="#D6D6E3" stroke-width="0.7"/>
<circle cx="719.5" cy="688.0" r="1.1" fill="none" stroke="#D6D6E3" stroke-width="0.7"/>
<circle cx="841.8" cy="689.5" r="1.1" fill="none" stroke="#D6D6E3" stroke-width="0.7"/>
<circle cx="909.6" cy="684.9" r="1.1" fill="none" stroke="#D6D6E3" stroke-width="0.7"/>
<circle cx="907.1" cy="695.1" r="1.1" fill="none" stroke="#D6D6E3" stroke-width="0.7"/>
<circle cx="734.6" cy="697.6" r="1.1" fill="none" stroke="#D6D6E3" stroke-width="0.7"/>
<circle cx="833.0" cy="683.7" r="1.1" fill="none" stroke="#D6D6E3" stroke-width="0.7"/>
<circle cx="945.3" cy="688.7" r="1.1" fill="none" stroke="#D6D6E3" stroke-width="0.7"/>
<circle cx="946.2" cy="696.2" r="1.1" fill="none" stroke="#D6D6E3" stroke-width="0.7"/>
<circle cx="773.7" cy="692.5" r="1.1" fill="none" stroke="#D6D6E3" stroke-width="0.7"/>
<circle cx="865.0" cy="686.8" r="1.1" fill="none" stroke="#D6D6E3" stroke-width="0.7"/>
<circle cx="779.4" cy="690.5" r="1.1" fill="none" stroke="#D6D6E3" stroke-width="0.7"/>
<circle cx="919.0" cy="695.6" r="1.1" fill="none" stroke="#D6D6E3" stroke-width="0.7"/>
<circle cx="951.2" cy="693.3" r="1.1" fill="none" stroke="#D6D6E3" stroke-width="0.7"/>
<circle cx="847.8" cy="691.5" r="1.1" fill="none" stroke="#D6D6E3" stroke-width="0.7"/>
<circle cx="856.2" cy="701.0" r="1.1" fill="none" stroke="#D6D6E3" stroke-width="0.7"/>
<circle cx="951.5" cy="691.4" r="1.1" fill="none" stroke="#D6D6E3" stroke-width="0.7"/>
<circle cx="845.1" cy="689.3" r="1.1" fill="none" stroke="#D6D6E3" stroke-width="0.7"/>
<circle cx="878.6" cy="696.5" r="1.1" fill="none" stroke="#D6D6E3" stroke-width="0.7"/>
<circle cx="948.2" cy="695.9" r="1.1" fill="none" stroke="#D6D6E3" stroke-width="0.7"/>
<circle cx="768.3" cy="690.0" r="1.1" fill="none" stroke="#D6D6E3" stroke-width="0.7"/>
<circle cx="911.3" cy="694.1" r="1.1" fill="none" stroke="#D6D6E3" stroke-width="0.7"/>
<circle cx="822.5" cy="681.2" r="1.1" fill="none" stroke="#D6D6E3" stroke-width="0.7"/>
<circle cx="939.9" cy="698.9" r="1.1" fill="none" stroke="#D6D6E3" stroke-width="0.7"/>
<circle cx="901.7" cy="698.8" r="1.1" fill="none" stroke="#D6D6E3" stroke-width="0.7"/>
<circle cx="877.6" cy="693.4" r="1.1" fill="none" stroke="#D6D6E3" stroke-width="0.7"/>
<circle cx="790.8" cy="689.6" r="1.1" fill="none" stroke="#D6D6E3" stroke-width="0.7"/>
<circle cx="729.9" cy="690.3" r="1.1" fill="none" stroke="#D6D6E3" stroke-width="0.7"/>
<circle cx="763.4" cy="692.7" r="1.1" fill="none" stroke="#D6D6E3" stroke-width="0.7"/>
<circle cx="796.1" cy="693.4" r="1.1" fill="none" stroke="#D6D6E3" stroke-width="0.7"/>
<circle cx="836.3" cy="687.2" r="1.1" fill="none" stroke="#D6D6E3" stroke-width="0.7"/>
<circle cx="864.9" cy="694.2" r="1.1" fill="none" stroke="#D6D6E3" stroke-width="0.7"/>
<circle cx="920.6" cy="682.3" r="1.1" fill="none" stroke="#D6D6E3" stroke-width="0.7"/>
<circle cx="891.7" cy="689.7" r="1.1" fill="none" stroke="#D6D6E3" stroke-width="0.7"/>
<circle cx="934.0" cy="693.2" r="1.1" fill="none" stroke="#D6D6E3" stroke-width="0.7"/>
<circle cx="754.9" cy="693.9" r="1.1" fill="none" stroke="#D6D6E3" stroke-width="0.7"/>
<circle cx="930.1" cy="695.6" r="1.1" fill="none" stroke="#D6D6E3" stroke-width="0.7"/>
<circle cx="765.7" cy="695.8" r="1.1" fill="none" stroke="#D6D6E3" stroke-width="0.7"/>
<circle cx="915.6" cy="681.8" r="1.1" fill="none" stroke="#D6D6E3" stroke-width="0.7"/>
<circle cx="803.2" cy="690.4" r="1.1" fill="none" stroke="#D6D6E3" stroke-width="0.7"/>
<circle cx="702.4" cy="692.3" r="1.1" fill="none" stroke="#D6D6E3" stroke-width="0.7"/>
<circle cx="951.2" cy="705.7" r="1.1" fill="none" stroke="#D6D6E3" stroke-width="0.7"/>
<circle cx="830.1" cy="683.7" r="1.1" fill="none" stroke="#D6D6E3" stroke-width="0.7"/>
<circle cx="747.3" cy="682.3" r="1.1" fill="none" stroke="#D6D6E3" stroke-width="0.7"/>
<circle cx="725.6" cy="694.9" r="1.1" fill="none" stroke="#D6D6E3" stroke-width="0.7"/>
<circle cx="846.6" cy="692.4" r="1.1" fill="none" stroke="#D6D6E3" stroke-width="0.7"/>
<circle cx="746.1" cy="693.1" r="1.1" fill="none" stroke="#D6D6E3" stroke-width="0.7"/>
<circle cx="940.4" cy="708.6" r="1.1" fill="none" stroke="#D6D6E3" stroke-width="0.7"/>
<circle cx="714.0" cy="694.2" r="1.1" fill="none" stroke="#D6D6E3" stroke-width="0.7"/>
<circle cx="783.3" cy="690.2" r="1.1" fill="none" stroke="#D6D6E3" stroke-width="0.7"/>
<circle cx="832.7" cy="675.0" r="1.1" fill="none" stroke="#D6D6E3" stroke-width="0.7"/>
<circle cx="881.3" cy="694.9" r="1.1" fill="none" stroke="#D6D6E3" stroke-width="0.7"/>
<circle cx="745.2" cy="686.7" r="1.1" fill="none" stroke="#D6D6E3" stroke-width="0.7"/>
<circle cx="748.9" cy="695.1" r="1.1" fill="none" stroke="#D6D6E3" stroke-width="0.7"/>
<circle cx="831.9" cy="690.6" r="1.1" fill="none" stroke="#D6D6E3" stroke-width="0.7"/>
<circle cx="882.2" cy="693.8" r="1.1" fill="none" stroke="#D6D6E3" stroke-width="0.7"/>
<circle cx="862.5" cy="689.0" r="1.1" fill="none" stroke="#D6D6E3" stroke-width="0.7"/>
<circle cx="955.0" cy="696.8" r="1.1" fill="none" stroke="#D6D6E3" stroke-width="0.7"/>
<circle cx="765.4" cy="695.7" r="1.1" fill="none" stroke="#D6D6E3" stroke-width="0.7"/>
<circle cx="911.0" cy="691.2" r="1.1" fill="none" stroke="#D6D6E3" stroke-width="0.7"/>
<circle cx="932.4" cy="697.5" r="1.1" fill="none" stroke="#D6D6E3" stroke-width="0.7"/>
<circle cx="898.1" cy="690.5" r="1.1" fill="none" stroke="#D6D6E3" stroke-width="0.7"/>
<circle cx="886.9" cy="695.8" r="1.1" fill="none" stroke="#D6D6E3" stroke-width="0.7"/>
<circle cx="700.6" cy="692.0" r="1.1" fill="none" stroke="#D6D6E3" stroke-width="0.7"/>
<circle cx="865.0" cy="691.0" r="1.1" fill="none" stroke="#D6D6E3" stroke-width="0.7"/>
<circle cx="872.1" cy="691.3" r="1.1" fill="none" stroke="#D6D6E3" stroke-width="0.7"/>
<circle cx="870.5" cy="689.4" r="1.1" fill="none" stroke="#D6D6E3" stroke-width="0.7"/>
<circle cx="959.5" cy="693.0" r="1.1" fill="none" stroke="#D6D6E3" stroke-width="0.7"/>
<circle cx="881.3" cy="694.8" r="1.1" fill="none" stroke="#D6D6E3" stroke-width="0.7"/>
<circle cx="858.8" cy="683.7" r="1.1" fill="none" stroke="#D6D6E3" stroke-width="0.7"/>
<circle cx="765.0" cy="689.5" r="1.1" fill="none" stroke="#D6D6E3" stroke-width="0.7"/>
<circle cx="796.1" cy="691.3" r="1.1" fill="none" stroke="#D6D6E3" stroke-width="0.7"/>
<circle cx="763.5" cy="694.7" r="1.1" fill="none" stroke="#D6D6E3" stroke-width="0.7"/>
<circle cx="950.9" cy="692.3" r="1.1" fill="none" stroke="#D6D6E3" stroke-width="0.7"/>
<circle cx="958.2" cy="685.4" r="1.1" fill="none" stroke="#D6D6E3" stroke-width="0.7"/>
<circle cx="854.2" cy="687.4" r="1.1" fill="none" stroke="#D6D6E3" stroke-width="0.7"/>
<circle cx="709.6" cy="692.6" r="1.1" fill="none" stroke="#D6D6E3" stroke-width="0.7"/>
<circle cx="742.1" cy="690.7" r="1.1" fill="none" stroke="#D6D6E3" stroke-width="0.7"/>
<circle cx="857.7" cy="698.7" r="1.1" fill="none" stroke="#D6D6E3" stroke-width="0.7"/>
<circle cx="835.7" cy="688.4" r="1.1" fill="none" stroke="#D6D6E3" stroke-width="0.7"/>
<circle cx="793.5" cy="689.4" r="1.1" fill="none" stroke="#D6D6E3" stroke-width="0.7"/>
<circle cx="772.0" cy="695.7" r="1.1" fill="none" stroke="#D6D6E3" stroke-width="0.7"/>
<circle cx="775.3" cy="697.2" r="1.1" fill="none" stroke="#D6D6E3" stroke-width="0.7"/>
<circle cx="738.8" cy="691.6" r="1.1" fill="none" stroke="#D6D6E3" stroke-width="0.7"/>
<circle cx="799.9" cy="699.3" r="1.1" fill="none" stroke="#D6D6E3" stroke-width="0.7"/>
<circle cx="956.6" cy="691.5" r="1.1" fill="none" stroke="#D6D6E3" stroke-width="0.7"/>
<circle cx="717.0" cy="693.7" r="1.1" fill="none" stroke="#D6D6E3" stroke-width="0.7"/>
<circle cx="952.5" cy="689.8" r="1.1" fill="none" stroke="#D6D6E3" stroke-width="0.7"/>
<circle cx="834.8" cy="689.9" r="1.1" fill="none" stroke="#D6D6E3" stroke-width="0.7"/>
<circle cx="954.0" cy="692.6" r="1.1" fill="none" stroke="#D6D6E3" stroke-width="0.7"/>
<circle cx="855.8" cy="694.9" r="1.1" fill="none" stroke="#D6D6E3" stroke-width="0.7"/>
<circle cx="751.1" cy="698.7" r="1.1" fill="none" stroke="#D6D6E3" stroke-width="0.7"/>
<circle cx="836.0" cy="688.3" r="1.1" fill="none" stroke="#D6D6E3" stroke-width="0.7"/>
<circle cx="817.0" cy="688.6" r="1.1" fill="none" stroke="#D6D6E3" stroke-width="0.7"/>
<circle cx="850.2" cy="686.3" r="1.1" fill="none" stroke="#D6D6E3" stroke-width="0.7"/>
<circle cx="958.9" cy="697.1" r="1.1" fill="none" stroke="#D6D6E3" stroke-width="0.7"/>
<circle cx="890.0" cy="693.5" r="1.1" fill="none" stroke="#D6D6E3" stroke-width="0.7"/>
<circle cx="903.1" cy="695.2" r="1.1" fill="none" stroke="#D6D6E3" stroke-width="0.7"/>
<circle cx="791.8" cy="689.9" r="1.1" fill="none" stroke="#D6D6E3" stroke-width="0.7"/>
<circle cx="852.6" cy="695.9" r="1.1" fill="none" stroke="#D6D6E3" stroke-width="0.7"/>
<circle cx="895.0" cy="694.4" r="1.1" fill="none" stroke="#D6D6E3" stroke-width="0.7"/>
<circle cx="937.4" cy="696.4" r="1.1" fill="none" stroke="#D6D6E3" stroke-width="0.7"/>
<circle cx="708.1" cy="693.2" r="1.1" fill="none" stroke="#D6D6E3" stroke-width="0.7"/>
<circle cx="860.9" cy="694.6" r="1.1" fill="none" stroke="#D6D6E3" stroke-width="0.7"/>
<circle cx="839.5" cy="688.7" r="1.1" fill="none" stroke="#D6D6E3" stroke-width="0.7"/>
<circle cx="841.9" cy="689.1" r="1.1" fill="none" stroke="#D6D6E3" stroke-width="0.7"/>
<circle cx="795.5" cy="687.9" r="1.1" fill="none" stroke="#D6D6E3" stroke-width="0.7"/>
<circle cx="892.7" cy="693.8" r="1.1" fill="none" stroke="#D6D6E3" stroke-width="0.7"/>
<circle cx="717.3" cy="695.1" r="1.1" fill="none" stroke="#D6D6E3" stroke-width="0.7"/>
<circle cx="899.0" cy="703.3" r="1.1" fill="none" stroke="#D6D6E3" stroke-width="0.7"/>
<circle cx="808.9" cy="685.4" r="1.1" fill="none" stroke="#D6D6E3" stroke-width="0.7"/>
<circle cx="868.9" cy="698.2" r="1.1" fill="none" stroke="#D6D6E3" stroke-width="0.7"/>
<circle cx="783.0" cy="686.5" r="1.1" fill="none" stroke="#D6D6E3" stroke-width="0.7"/>
<circle cx="809.7" cy="683.8" r="1.1" fill="none" stroke="#D6D6E3" stroke-width="0.7"/>
<circle cx="723.2" cy="693.4" r="1.1" fill="none" stroke="#D6D6E3" stroke-width="0.7"/>
<circle cx="845.5" cy="688.9" r="1.1" fill="none" stroke="#D6D6E3" stroke-width="0.7"/>
<circle cx="877.2" cy="689.0" r="1.1" fill="none" stroke="#D6D6E3" stroke-width="0.7"/>
<circle cx="753.6" cy="696.4" r="1.1" fill="none" stroke="#D6D6E3" stroke-width="0.7"/>
<circle cx="719.2" cy="689.5" r="1.1" fill="none" stroke="#D6D6E3" stroke-width="0.7"/>
<circle cx="771.8" cy="703.3" r="1.1" fill="none" stroke="#D6D6E3" stroke-width="0.7"/>
<circle cx="791.4" cy="689.5" r="1.1" fill="none" stroke="#D6D6E3" stroke-width="0.7"/>
<circle cx="883.4" cy="690.4" r="1.1" fill="none" stroke="#D6D6E3" stroke-width="0.7"/>
<circle cx="938.2" cy="700.4" r="1.1" fill="none" stroke="#D6D6E3" stroke-width="0.7"/>
<circle cx="908.0" cy="691.4" r="1.1" fill="none" stroke="#D6D6E3" stroke-width="0.7"/>
<circle cx="780.9" cy="685.6" r="1.1" fill="none" stroke="#D6D6E3" stroke-width="0.7"/>
<circle cx="762.8" cy="695.7" r="1.1" fill="none" stroke="#D6D6E3" stroke-width="0.7"/>
<circle cx="793.5" cy="688.4" r="1.1" fill="none" stroke="#D6D6E3" stroke-width="0.7"/>
<circle cx="748.8" cy="693.8" r="1.1" fill="none" stroke="#D6D6E3" stroke-width="0.7"/>
<circle cx="906.4" cy="688.3" r="1.1" fill="none" stroke="#D6D6E3" stroke-width="0.7"/>
<circle cx="744.0" cy="690.0" r="1.1" fill="none" stroke="#D6D6E3" stroke-width="0.7"/>
<circle cx="928.3" cy="694.0" r="1.1" fill="none" stroke="#D6D6E3" stroke-width="0.7"/>
<circle cx="840.2" cy="688.5" r="1.1" fill="none" stroke="#D6D6E3" stroke-width="0.7"/>
<circle cx="950.7" cy="686.3" r="1.1" fill="none" stroke="#D6D6E3" stroke-width="0.7"/>
<circle cx="840.9" cy="683.7" r="1.1" fill="none" stroke="#D6D6E3" stroke-width="0.7"/>
<circle cx="719.8" cy="695.4" r="1.1" fill="none" stroke="#D6D6E3" stroke-width="0.7"/>
<circle cx="720.0" cy="693.5" r="1.1" fill="none" stroke="#D6D6E3" stroke-width="0.7"/>
<circle cx="735.5" cy="691.0" r="1.1" fill="none" stroke="#D6D6E3" stroke-width="0.7"/>
<circle cx="755.5" cy="687.2" r="1.1" fill="none" stroke="#D6D6E3" stroke-width="0.7"/>
<circle cx="834.3" cy="685.5" r="1.1" fill="none" stroke="#D6D6E3" stroke-width="0.7"/>
<circle cx="951.2" cy="691.5" r="1.1" fill="none" stroke="#D6D6E3" stroke-width="0.7"/>
<circle cx="827.0" cy="677.9" r="1.1" fill="none" stroke="#D6D6E3" stroke-width="0.7"/>
<circle cx="937.2" cy="693.1" r="1.1" fill="none" stroke="#D6D6E3" stroke-width="0.7"/>
<circle cx="914.0" cy="691.0" r="1.1" fill="none" stroke="#D6D6E3" stroke-width="0.7"/>
<circle cx="916.0" cy="688.8" r="1.1" fill="none" stroke="#D6D6E3" stroke-width="0.7"/>
<circle cx="948.5" cy="692.1" r="1.1" fill="none" stroke="#D6D6E3" stroke-width="0.7"/>
<circle cx="907.7" cy="691.0" r="1.1" fill="none" stroke="#D6D6E3" stroke-width="0.7"/>
<circle cx="807.8" cy="689.1" r="1.1" fill="none" stroke="#D6D6E3" stroke-width="0.7"/>
<circle cx="796.1" cy="700.1" r="1.1" fill="none" stroke="#D6D6E3" stroke-width="0.7"/>
<path d="M695.8,690.8L696.5,690.8L697.3,690.8L698.0,690.8L698.8,690.8L699.5,690.9L700.3,690.9L701.0,690.9L701.8,690.9L702.5,690.9L703.3,690.9L704.0,690.9L704.8,690.9L705.5,690.9L706.3,690.9L707.0,691.0L707.8,691.0L708.5,691.0L709.3,691.0L710.0,691.0L710.8,691.0L711.5,691.0L712.3,691.0L713.0,691.0L713.8,691.1L714.5,691.1L715.3,691.1L716.0,691.1L716.8,691.1L717.5,691.1L718.3,691.1L719.0,691.1L719.8,691.1L720.5,691.1L721.3,691.2L722.0,691.2L722.8,691.2L723.5,691.2L724.3,691.2L725.0,691.2L725.8,691.2L726.5,691.2L727.3,691.2L728.0,691.2L728.8,691.3L729.5,691.3L730.3,691.3L731.0,691.3L731.8,691.3L732.5,691.3L733.3,691.3L734.0,691.3L734.8,691.3L735.5,691.3L736.3,691.3L737.0,691.4L737.8,691.4L738.5,691.4L739.3,691.4L740.0,691.4L740.8,691.4L741.5,691.4L742.3,691.4L743.0,691.4L743.8,691.4L744.5,691.4L745.3,691.4L746.0,691.4L746.8,691.5L747.5,691.5L748.3,691.5L749.0,691.5L749.8,691.5L750.5,691.5L751.3,691.5L752.0,691.5L752.8,691.5L753.5,691.5L754.3,691.5L755.0,691.5L755.8,691.5L756.5,691.5L757.3,691.5L758.0,691.5L758.8,691.5L759.5,691.5L760.3,691.5L761.0,691.5L761.8,691.5L762.5,691.5L763.3,691.5L764.0,691.5L764.8,691.5L765.5,691.5L766.3,691.5L767.0,691.5L767.8,691.5L768.5,691.5L769.3,691.4L770.0,691.4L770.8,691.4L771.5,691.4L772.3,691.4L773.0,691.4L773.8,691.4L774.5,691.4L775.3,691.4L776.0,691.3L776.8,691.3L777.5,691.3L778.3,691.3L779.0,691.3L779.8,691.2L780.5,691.2L781.3,691.2L782.0,691.2L782.8,691.1L783.5,691.1L784.3,691.1L785.0,691.0L785.8,691.0L786.5,690.9L787.3,690.9L788.0,690.8L788.8,690.7L789.5,690.7L790.3,690.6L791.0,690.5L791.8,690.4L792.5,690.3L793.3,690.2L794.0,690.1L794.8,689.9L795.5,689.8L796.3,689.6L797.0,689.4L797.8,689.2L798.5,689.0L799.3,688.8L800.0,688.6L800.8,688.4L801.5,688.1L802.3,687.8L803.0,687.5L803.8,687.3L804.5,686.9L805.3,686.6L806.0,686.3L806.8,686.0L807.5,685.6L808.3,685.3L809.0,684.9L809.8,684.6L810.5,684.3L811.3,683.9L812.0,683.6L812.8,683.3L813.5,682.9L814.3,682.6L815.0,682.4L815.8,682.1L816.5,681.9L817.3,681.7L818.0,681.5L818.8,681.3L819.5,681.2L820.3,681.1L821.0,681.0L821.8,681.0L822.5,681.0L823.3,681.0L824.0,681.1L824.8,681.2L825.5,681.3L826.3,681.5L827.0,681.6L827.8,681.9L828.5,682.1L829.3,682.4L830.0,682.7L830.8,683.0L831.5,683.3L832.3,683.6L833.0,684.0L833.8,684.3L834.5,684.7L835.3,685.1L836.0,685.4L836.8,685.8L837.5,686.2L838.3,686.5L839.0,686.9L839.8,687.2L840.5,687.6L841.3,687.9L842.0,688.2L842.8,688.5L843.5,688.8L844.3,689.1L845.0,689.3L845.8,689.6L846.5,689.8L847.3,690.0L848.0,690.2L848.8,690.4L849.5,690.6L850.3,690.8L851.0,690.9L851.8,691.1L852.5,691.2L853.3,691.3L854.0,691.5L854.8,691.6L855.5,691.7L856.3,691.8L857.0,691.8L857.8,691.9L858.5,692.0L859.3,692.1L860.0,692.1L860.8,692.2L861.5,692.3L862.3,692.3L863.0,692.4L863.8,692.4L864.5,692.5L865.3,692.5L866.0,692.5L866.8,692.6L867.5,692.6L868.3,692.7L869.0,692.7L869.8,692.7L870.5,692.8L871.3,692.8L872.0,692.8L872.8,692.9L873.5,692.9L874.3,692.9L875.0,693.0L875.8,693.0L876.5,693.0L877.3,693.0L878.0,693.1L878.8,693.1L879.5,693.1L880.3,693.1L881.0,693.2L881.8,693.2L882.5,693.2L883.3,693.2L884.0,693.3L884.8,693.3L885.5,693.3L886.3,693.3L887.0,693.3L887.8,693.4L888.5,693.4L889.3,693.4L890.0,693.4L890.8,693.4L891.5,693.5L892.3,693.5L893.0,693.5L893.8,693.5L894.5,693.5L895.3,693.6L896.0,693.6L896.8,693.6L897.5,693.6L898.3,693.6L899.0,693.6L899.8,693.7L900.5,693.7L901.3,693.7L902.0,693.7L902.8,693.7L903.5,693.7L904.3,693.7L905.0,693.8L905.8,693.8L906.5,693.8L907.3,693.8L908.0,693.8L908.8,693.8L909.5,693.8L910.3,693.8L911.0,693.9L911.8,693.9L912.5,693.9L913.3,693.9L914.0,693.9L914.8,693.9L915.5,693.9L916.3,693.9L917.0,694.0L917.8,694.0L918.5,694.0L919.3,694.0L920.0,694.0L920.8,694.0L921.5,694.0L922.3,694.0L923.0,694.0L923.8,694.1L924.5,694.1L925.3,694.1L926.0,694.1L926.8,694.1L927.5,694.1L928.3,694.1L929.0,694.1L929.8,694.1L930.5,694.2L931.3,694.2L932.0,694.2L932.8,694.2L933.5,694.2L934.3,694.2L935.0,694.2L935.8,694.2L936.5,694.2L937.3,694.3L938.0,694.3L938.8,694.3L939.5,694.3L940.3,694.3L941.0,694.3L941.8,694.3L942.5,694.3L943.3,694.3L944.0,694.3L944.8,694.4L945.5,694.4L946.3,694.4L947.0,694.4L947.8,694.4L948.5,694.4L949.3,694.4L950.0,694.4L950.8,694.4L951.5,694.5L952.3,694.5L953.0,694.5L953.8,694.5L954.5,694.5L955.3,694.5L956.0,694.5L956.8,694.5L957.5,694.5L958.3,694.6L959.0,694.6L959.8,694.6L960.5,694.6L961.3,694.6L961.3,694.6L960.5,694.6L959.8,694.6L959.0,694.6L958.3,694.6L957.5,694.5L956.8,694.5L956.0,694.5L955.3,694.5L954.5,694.5L953.8,694.5L953.0,694.5L952.3,694.5L951.5,694.5L950.8,694.4L950.0,694.4L949.3,694.4L948.5,694.4L947.8,694.4L947.0,694.4L946.3,694.4L945.5,694.4L944.8,694.4L944.0,694.4L943.3,694.3L942.5,694.3L941.8,694.3L941.0,694.3L940.3,694.3L939.5,694.3L938.8,694.3L938.0,694.3L937.3,694.3L936.5,694.2L935.8,694.2L935.0,694.2L934.3,694.2L933.5,694.2L932.8,694.2L932.0,694.2L931.3,694.2L930.5,694.2L929.8,694.1L929.0,694.1L928.3,694.1L927.5,694.1L926.8,694.1L926.0,694.1L925.3,694.1L924.5,694.1L923.8,694.1L923.0,694.1L922.3,694.0L921.5,694.0L920.8,694.0L920.0,694.0L919.3,694.0L918.5,694.0L917.8,694.0L917.0,694.0L916.3,694.0L915.5,693.9L914.8,693.9L914.0,693.9L913.3,693.9L912.5,693.9L911.8,693.9L911.0,693.9L910.3,693.9L909.5,693.9L908.8,693.8L908.0,693.8L907.3,693.8L906.5,693.8L905.8,693.8L905.0,693.8L904.3,693.8L903.5,693.8L902.8,693.8L902.0,693.8L901.3,693.7L900.5,693.7L899.8,693.7L899.0,693.7L898.3,693.7L897.5,693.7L896.8,693.7L896.0,693.7L895.3,693.7L894.5,693.6L893.8,693.6L893.0,693.6L892.3,693.6L891.5,693.6L890.8,693.6L890.0,693.6L889.3,693.6L888.5,693.6L887.8,693.6L887.0,693.5L886.3,693.5L885.5,693.5L884.8,693.5L884.0,693.5L883.3,693.5L882.5,693.5L881.8,693.5L881.0,693.5L880.3,693.5L879.5,693.5L878.8,693.5L878.0,693.5L877.3,693.5L876.5,693.5L875.8,693.4L875.0,693.4L874.3,693.4L873.5,693.4L872.8,693.4L872.0,693.4L871.3,693.4L870.5,693.4L869.8,693.4L869.0,693.4L868.3,693.5L867.5,693.5L866.8,693.5L866.0,693.5L865.3,693.5L864.5,693.5L863.8,693.5L863.0,693.5L862.3,693.5L861.5,693.5L860.8,693.5L860.0,693.6L859.3,693.6L858.5,693.6L857.8,693.6L857.0,693.6L856.3,693.7L855.5,693.7L854.8,693.7L854.0,693.7L853.3,693.8L852.5,693.8L851.8,693.8L851.0,693.8L850.3,693.9L849.5,693.9L848.8,693.9L848.0,694.0L847.3,694.0L846.5,694.0L845.8,694.0L845.0,694.1L844.3,694.1L843.5,694.1L842.8,694.2L842.0,694.2L841.3,694.2L840.5,694.2L839.8,694.3L839.0,694.3L838.3,694.3L837.5,694.3L836.8,694.3L836.0,694.4L835.3,694.4L834.5,694.4L833.8,694.4L833.0,694.4L832.3,694.4L831.5,694.4L830.8,694.4L830.0,694.4L829.3,694.4L828.5,694.4L827.8,694.4L827.0,694.4L826.3,694.4L825.5,694.3L824.8,694.3L824.0,694.3L823.3,694.3L822.5,694.2L821.8,694.2L821.0,694.2L820.3,694.1L819.5,694.1L818.8,694.1L818.0,694.0L817.3,694.0L816.5,693.9L815.8,693.9L815.0,693.9L814.3,693.8L813.5,693.8L812.8,693.7L812.0,693.7L811.3,693.6L810.5,693.6L809.8,693.5L809.0,693.5L808.3,693.4L807.5,693.4L806.8,693.3L806.0,693.3L805.3,693.2L804.5,693.2L803.8,693.1L803.0,693.1L802.3,693.0L801.5,693.0L800.8,692.9L800.0,692.9L799.3,692.8L798.5,692.8L797.8,692.7L797.0,692.7L796.3,692.7L795.5,692.6L794.8,692.6L794.0,692.6L793.3,692.5L792.5,692.5L791.8,692.5L791.0,692.4L790.3,692.4L789.5,692.4L788.8,692.3L788.0,692.3L787.3,692.3L786.5,692.3L785.8,692.2L785.0,692.2L784.3,692.2L783.5,692.2L782.8,692.1L782.0,692.1L781.3,692.1L780.5,692.1L779.8,692.1L779.0,692.1L778.3,692.0L777.5,692.0L776.8,692.0L776.0,692.0L775.3,692.0L774.5,692.0L773.8,691.9L773.0,691.9L772.3,691.9L771.5,691.9L770.8,691.9L770.0,691.9L769.3,691.9L768.5,691.9L767.8,691.8L767.0,691.8L766.3,691.8L765.5,691.8L764.8,691.8L764.0,691.8L763.3,691.8L762.5,691.8L761.8,691.7L761.0,691.7L760.3,691.7L759.5,691.7L758.8,691.7L758.0,691.7L757.3,691.7L756.5,691.7L755.8,691.7L755.0,691.6L754.3,691.6L753.5,691.6L752.8,691.6L752.0,691.6L751.3,691.6L750.5,691.6L749.8,691.6L749.0,691.6L748.3,691.6L747.5,691.5L746.8,691.5L746.0,691.5L745.3,691.5L744.5,691.5L743.8,691.5L743.0,691.5L742.3,691.5L741.5,691.5L740.8,691.4L740.0,691.4L739.3,691.4L738.5,691.4L737.8,691.4L737.0,691.4L736.3,691.4L735.5,691.4L734.8,691.4L734.0,691.3L733.3,691.3L732.5,691.3L731.8,691.3L731.0,691.3L730.3,691.3L729.5,691.3L728.8,691.3L728.0,691.3L727.3,691.3L726.5,691.2L725.8,691.2L725.0,691.2L724.3,691.2L723.5,691.2L722.8,691.2L722.0,691.2L721.3,691.2L720.5,691.2L719.8,691.1L719.0,691.1L718.3,691.1L717.5,691.1L716.8,691.1L716.0,691.1L715.3,691.1L714.5,691.1L713.8,691.1L713.0,691.0L712.3,691.0L711.5,691.0L710.8,691.0L710.0,691.0L709.3,691.0L708.5,691.0L707.8,691.0L707.0,691.0L706.3,691.0L705.5,690.9L704.8,690.9L704.0,690.9L703.3,690.9L702.5,690.9L701.8,690.9L701.0,690.9L700.3,690.9L699.5,690.9L698.8,690.8L698.0,690.8L697.3,690.8L696.5,690.8L695.8,690.8Z" fill="#D5E6F5" />
<path d="M695.8,690.8L696.5,690.8L697.3,690.8L698.0,690.8L698.8,690.8L699.5,690.9L700.3,690.9L701.0,690.9L701.8,690.9L702.5,690.9L703.3,690.9L704.0,690.9L704.8,690.9L705.5,690.9L706.3,691.0L707.0,691.0L707.8,691.0L708.5,691.0L709.3,691.0L710.0,691.0L710.8,691.0L711.5,691.0L712.3,691.0L713.0,691.0L713.8,691.1L714.5,691.1L715.3,691.1L716.0,691.1L716.8,691.1L717.5,691.1L718.3,691.1L719.0,691.1L719.8,691.1L720.5,691.2L721.3,691.2L722.0,691.2L722.8,691.2L723.5,691.2L724.3,691.2L725.0,691.2L725.8,691.2L726.5,691.2L727.3,691.3L728.0,691.3L728.8,691.3L729.5,691.3L730.3,691.3L731.0,691.3L731.8,691.3L732.5,691.3L733.3,691.3L734.0,691.3L734.8,691.4L735.5,691.4L736.3,691.4L737.0,691.4L737.8,691.4L738.5,691.4L739.3,691.4L740.0,691.4L740.8,691.4L741.5,691.5L742.3,691.5L743.0,691.5L743.8,691.5L744.5,691.5L745.3,691.5L746.0,691.5L746.8,691.5L747.5,691.5L748.3,691.6L749.0,691.6L749.8,691.6L750.5,691.6L751.3,691.6L752.0,691.6L752.8,691.6L753.5,691.6L754.3,691.6L755.0,691.6L755.8,691.7L756.5,691.7L757.3,691.7L758.0,691.7L758.8,691.7L759.5,691.7L760.3,691.7L761.0,691.7L761.8,691.7L762.5,691.8L763.3,691.8L764.0,691.8L764.8,691.8L765.5,691.8L766.3,691.8L767.0,691.8L767.8,691.8L768.5,691.9L769.3,691.9L770.0,691.9L770.8,691.9L771.5,691.9L772.3,691.9L773.0,691.9L773.8,691.9L774.5,692.0L775.3,692.0L776.0,692.0L776.8,692.0L777.5,692.0L778.3,692.0L779.0,692.1L779.8,692.1L780.5,692.1L781.3,692.1L782.0,692.1L782.8,692.1L783.5,692.2L784.3,692.2L785.0,692.2L785.8,692.2L786.5,692.3L787.3,692.3L788.0,692.3L788.8,692.3L789.5,692.4L790.3,692.4L791.0,692.4L791.8,692.5L792.5,692.5L793.3,692.5L794.0,692.6L794.8,692.6L795.5,692.6L796.3,692.7L797.0,692.7L797.8,692.7L798.5,692.8L799.3,692.8L800.0,692.9L800.8,692.9L801.5,693.0L802.3,693.0L803.0,693.1L803.8,693.1L804.5,693.2L805.3,693.2L806.0,693.3L806.8,693.3L807.5,693.4L808.3,693.4L809.0,693.5L809.8,693.5L810.5,693.6L811.3,693.6L812.0,693.7L812.8,693.7L813.5,693.8L814.3,693.8L815.0,693.9L815.8,693.9L816.5,693.9L817.3,694.0L818.0,694.0L818.8,694.1L819.5,694.1L820.3,694.1L821.0,694.2L821.8,694.2L822.5,694.2L823.3,694.3L824.0,694.3L824.8,694.3L825.5,694.3L826.3,694.4L827.0,694.4L827.8,694.4L828.5,694.4L829.3,694.4L830.0,694.4L830.8,694.4L831.5,694.4L832.3,694.4L833.0,694.4L833.8,694.4L834.5,694.4L835.3,694.4L836.0,694.4L836.8,694.3L837.5,694.3L838.3,694.3L839.0,694.3L839.8,694.3L840.5,694.2L841.3,694.2L842.0,694.2L842.8,694.2L843.5,694.1L844.3,694.1L845.0,694.1L845.8,694.0L846.5,694.0L847.3,694.0L848.0,694.0L848.8,693.9L849.5,693.9L850.3,693.9L851.0,693.8L851.8,693.8L852.5,693.8L853.3,693.8L854.0,693.7L854.8,693.7L855.5,693.7L856.3,693.7L857.0,693.6L857.8,693.6L858.5,693.6L859.3,693.6L860.0,693.6L860.8,693.5L861.5,693.5L862.3,693.5L863.0,693.5L863.8,693.5L864.5,693.5L865.3,693.5L866.0,693.5L866.8,693.5L867.5,693.5L868.3,693.5L869.0,693.4L869.8,693.4L870.5,693.4L871.3,693.4L872.0,693.4L872.8,693.4L873.5,693.4L874.3,693.4L875.0,693.4L875.8,693.4L876.5,693.5L877.3,693.5L878.0,693.5L878.8,693.5L879.5,693.5L880.3,693.5L881.0,693.5L881.8,693.5L882.5,693.5L883.3,693.5L884.0,693.5L884.8,693.5L885.5,693.5L886.3,693.5L887.0,693.5L887.8,693.6L888.5,693.6L889.3,693.6L890.0,693.6L890.8,693.6L891.5,693.6L892.3,693.6L893.0,693.6L893.8,693.6L894.5,693.6L895.3,693.7L896.0,693.7L896.8,693.7L897.5,693.7L898.3,693.7L899.0,693.7L899.8,693.7L900.5,693.7L901.3,693.7L902.0,693.8L902.8,693.8L903.5,693.8L904.3,693.8L905.0,693.8L905.8,693.8L906.5,693.8L907.3,693.8L908.0,693.8L908.8,693.8L909.5,693.9L910.3,693.9L911.0,693.9L911.8,693.9L912.5,693.9L913.3,693.9L914.0,693.9L914.8,693.9L915.5,693.9L916.3,694.0L917.0,694.0L917.8,694.0L918.5,694.0L919.3,694.0L920.0,694.0L920.8,694.0L921.5,694.0L922.3,694.0L923.0,694.1L923.8,694.1L924.5,694.1L925.3,694.1L926.0,694.1L926.8,694.1L927.5,694.1L928.3,694.1L929.0,694.1L929.8,694.1L930.5,694.2L931.3,694.2L932.0,694.2L932.8,694.2L933.5,694.2L934.3,694.2L935.0,694.2L935.8,694.2L936.5,694.2L937.3,694.3L938.0,694.3L938.8,694.3L939.5,694.3L940.3,694.3L941.0,694.3L941.8,694.3L942.5,694.3L943.3,694.3L944.0,694.4L944.8,694.4L945.5,694.4L946.3,694.4L947.0,694.4L947.8,694.4L948.5,694.4L949.3,694.4L950.0,694.4L950.8,694.4L951.5,694.5L952.3,694.5L953.0,694.5L953.8,694.5L954.5,694.5L955.3,694.5L956.0,694.5L956.8,694.5L957.5,694.5L958.3,694.6L959.0,694.6L959.8,694.6L960.5,694.6L961.3,694.6" fill="none" stroke="#333" stroke-width="1.3" stroke-linejoin="round" stroke-linecap="round" />
<path d="M695.8,690.8L696.5,690.8L697.3,690.8L698.0,690.8L698.8,690.8L699.5,690.9L700.3,690.9L701.0,690.9L701.8,690.9L702.5,690.9L703.3,690.9L704.0,690.9L704.8,690.9L705.5,690.9L706.3,690.9L707.0,691.0L707.8,691.0L708.5,691.0L709.3,691.0L710.0,691.0L710.8,691.0L711.5,691.0L712.3,691.0L713.0,691.0L713.8,691.1L714.5,691.1L715.3,691.1L716.0,691.1L716.8,691.1L717.5,691.1L718.3,691.1L719.0,691.1L719.8,691.1L720.5,691.1L721.3,691.2L722.0,691.2L722.8,691.2L723.5,691.2L724.3,691.2L725.0,691.2L725.8,691.2L726.5,691.2L727.3,691.2L728.0,691.2L728.8,691.3L729.5,691.3L730.3,691.3L731.0,691.3L731.8,691.3L732.5,691.3L733.3,691.3L734.0,691.3L734.8,691.3L735.5,691.3L736.3,691.3L737.0,691.4L737.8,691.4L738.5,691.4L739.3,691.4L740.0,691.4L740.8,691.4L741.5,691.4L742.3,691.4L743.0,691.4L743.8,691.4L744.5,691.4L745.3,691.4L746.0,691.4L746.8,691.5L747.5,691.5L748.3,691.5L749.0,691.5L749.8,691.5L750.5,691.5L751.3,691.5L752.0,691.5L752.8,691.5L753.5,691.5L754.3,691.5L755.0,691.5L755.8,691.5L756.5,691.5L757.3,691.5L758.0,691.5L758.8,691.5L759.5,691.5L760.3,691.5L761.0,691.5L761.8,691.5L762.5,691.5L763.3,691.5L764.0,691.5L764.8,691.5L765.5,691.5L766.3,691.5L767.0,691.5L767.8,691.5L768.5,691.5L769.3,691.4L770.0,691.4L770.8,691.4L771.5,691.4L772.3,691.4L773.0,691.4L773.8,691.4L774.5,691.4L775.3,691.4L776.0,691.3L776.8,691.3L777.5,691.3L778.3,691.3L779.0,691.3L779.8,691.2L780.5,691.2L781.3,691.2L782.0,691.2L782.8,691.1L783.5,691.1L784.3,691.1L785.0,691.0L785.8,691.0L786.5,690.9L787.3,690.9L788.0,690.8L788.8,690.7L789.5,690.7L790.3,690.6L791.0,690.5L791.8,690.4L792.5,690.3L793.3,690.2L794.0,690.1L794.8,689.9L795.5,689.8L796.3,689.6L797.0,689.4L797.8,689.2L798.5,689.0L799.3,688.8L800.0,688.6L800.8,688.4L801.5,688.1L802.3,687.8L803.0,687.5L803.8,687.3L804.5,686.9L805.3,686.6L806.0,686.3L806.8,686.0L807.5,685.6L808.3,685.3L809.0,684.9L809.8,684.6L810.5,684.3L811.3,683.9L812.0,683.6L812.8,683.3L813.5,682.9L814.3,682.6L815.0,682.4L815.8,682.1L816.5,681.9L817.3,681.7L818.0,681.5L818.8,681.3L819.5,681.2L820.3,681.1L821.0,681.0L821.8,681.0L822.5,681.0L823.3,681.0L824.0,681.1L824.8,681.2L825.5,681.3L826.3,681.5L827.0,681.6L827.8,681.9L828.5,682.1L829.3,682.4L830.0,682.7L830.8,683.0L831.5,683.3L832.3,683.6L833.0,684.0L833.8,684.3L834.5,684.7L835.3,685.1L836.0,685.4L836.8,685.8L837.5,686.2L838.3,686.5L839.0,686.9L839.8,687.2L840.5,687.6L841.3,687.9L842.0,688.2L842.8,688.5L843.5,688.8L844.3,689.1L845.0,689.3L845.8,689.6L846.5,689.8L847.3,690.0L848.0,690.2L848.8,690.4L849.5,690.6L850.3,690.8L851.0,690.9L851.8,691.1L852.5,691.2L853.3,691.3L854.0,691.5L854.8,691.6L855.5,691.7L856.3,691.8L857.0,691.8L857.8,691.9L858.5,692.0L859.3,692.1L860.0,692.1L860.8,692.2L861.5,692.3L862.3,692.3L863.0,692.4L863.8,692.4L864.5,692.5L865.3,692.5L866.0,692.5L866.8,692.6L867.5,692.6L868.3,692.7L869.0,692.7L869.8,692.7L870.5,692.8L871.3,692.8L872.0,692.8L872.8,692.9L873.5,692.9L874.3,692.9L875.0,693.0L875.8,693.0L876.5,693.0L877.3,693.0L878.0,693.1L878.8,693.1L879.5,693.1L880.3,693.1L881.0,693.2L881.8,693.2L882.5,693.2L883.3,693.2L884.0,693.3L884.8,693.3L885.5,693.3L886.3,693.3L887.0,693.3L887.8,693.4L888.5,693.4L889.3,693.4L890.0,693.4L890.8,693.4L891.5,693.5L892.3,693.5L893.0,693.5L893.8,693.5L894.5,693.5L895.3,693.6L896.0,693.6L896.8,693.6L897.5,693.6L898.3,693.6L899.0,693.6L899.8,693.7L900.5,693.7L901.3,693.7L902.0,693.7L902.8,693.7L903.5,693.7L904.3,693.7L905.0,693.8L905.8,693.8L906.5,693.8L907.3,693.8L908.0,693.8L908.8,693.8L909.5,693.8L910.3,693.8L911.0,693.9L911.8,693.9L912.5,693.9L913.3,693.9L914.0,693.9L914.8,693.9L915.5,693.9L916.3,693.9L917.0,694.0L917.8,694.0L918.5,694.0L919.3,694.0L920.0,694.0L920.8,694.0L921.5,694.0L922.3,694.0L923.0,694.0L923.8,694.1L924.5,694.1L925.3,694.1L926.0,694.1L926.8,694.1L927.5,694.1L928.3,694.1L929.0,694.1L929.8,694.1L930.5,694.2L931.3,694.2L932.0,694.2L932.8,694.2L933.5,694.2L934.3,694.2L935.0,694.2L935.8,694.2L936.5,694.2L937.3,694.3L938.0,694.3L938.8,694.3L939.5,694.3L940.3,694.3L941.0,694.3L941.8,694.3L942.5,694.3L943.3,694.3L944.0,694.3L944.8,694.4L945.5,694.4L946.3,694.4L947.0,694.4L947.8,694.4L948.5,694.4L949.3,694.4L950.0,694.4L950.8,694.4L951.5,694.5L952.3,694.5L953.0,694.5L953.8,694.5L954.5,694.5L955.3,694.5L956.0,694.5L956.8,694.5L957.5,694.5L958.3,694.6L959.0,694.6L959.8,694.6L960.5,694.6L961.3,694.6" fill="none" stroke="#6BAEE4" stroke-width="1.8" stroke-linejoin="round" stroke-linecap="round" />
<rect x="695.8" y="513.6" width="265.7" height="199.9" fill="none" stroke="#404040" stroke-width="1.3" />
<text x="695.8" y="735.6" font-size="11.7" fill="#1c1c1c" stroke="#1c1c1c" text-anchor="middle" textLength="20.4" lengthAdjust="spacingAndGlyphs" >692</text>
<line x1="733.8" y1="713.5" x2="733.8" y2="708.9" stroke="#404040" stroke-width="1.1" />
<text x="733.8" y="735.6" font-size="11.7" fill="#1c1c1c" stroke="#1c1c1c" text-anchor="middle" textLength="20.4" lengthAdjust="spacingAndGlyphs" >690</text>
<line x1="771.7" y1="713.5" x2="771.7" y2="708.9" stroke="#404040" stroke-width="1.1" />
<text x="771.7" y="735.6" font-size="11.7" fill="#1c1c1c" stroke="#1c1c1c" text-anchor="middle" textLength="20.4" lengthAdjust="spacingAndGlyphs" >688</text>
<line x1="809.7" y1="713.5" x2="809.7" y2="708.9" stroke="#404040" stroke-width="1.1" />
<text x="809.7" y="735.6" font-size="11.7" fill="#1c1c1c" stroke="#1c1c1c" text-anchor="middle" textLength="20.4" lengthAdjust="spacingAndGlyphs" >686</text>
<line x1="847.6" y1="713.5" x2="847.6" y2="708.9" stroke="#404040" stroke-width="1.1" />
<text x="847.6" y="735.6" font-size="11.7" fill="#1c1c1c" stroke="#1c1c1c" text-anchor="middle" textLength="20.4" lengthAdjust="spacingAndGlyphs" >684</text>
<line x1="885.6" y1="713.5" x2="885.6" y2="708.9" stroke="#404040" stroke-width="1.1" />
<text x="885.6" y="735.6" font-size="11.7" fill="#1c1c1c" stroke="#1c1c1c" text-anchor="middle" textLength="20.4" lengthAdjust="spacingAndGlyphs" >682</text>
<line x1="923.5" y1="713.5" x2="923.5" y2="708.9" stroke="#404040" stroke-width="1.1" />
<text x="923.5" y="735.6" font-size="11.7" fill="#1c1c1c" stroke="#1c1c1c" text-anchor="middle" textLength="20.4" lengthAdjust="spacingAndGlyphs" >680</text>
<text x="961.5" y="735.6" font-size="11.7" fill="#1c1c1c" stroke="#1c1c1c" text-anchor="middle" textLength="20.4" lengthAdjust="spacingAndGlyphs" >678</text>
<text x="774.5" y="756.3" font-size="12.6" fill="#1c1c1c" stroke="#1c1c1c" textLength="121.7" lengthAdjust="spacingAndGlyphs" >Binding energy (eV)</text>
<text x="665.6" y="523.9" font-size="22.5" fill="#1c1c1c" stroke="#1c1c1c" textLength="9.5" lengthAdjust="spacingAndGlyphs" >h</text>
<text x="706.8" y="530.7" font-size="13" fill="#1c1c1c" stroke="#1c1c1c" textLength="17.5" lengthAdjust="spacingAndGlyphs" >F 1</text>
<text x="724.9" y="530.7" font-size="13" fill="#1c1c1c" stroke="#1c1c1c" font-style="italic">s</text>
<text x="861.0" y="528.8" font-size="11.2" fill="#1c1c1c" stroke="#1c1c1c" textLength="92.4" lengthAdjust="spacingAndGlyphs" >PEO-Mg-Al-LiTFSI</text>
<text x="895.9" y="631.7" font-size="11.2" fill="#1c1c1c" stroke="#1c1c1c" textLength="56.0" lengthAdjust="spacingAndGlyphs" >PEO-LiTFSI</text>
<text x="794.1" y="557.6" font-size="12.6" fill="#4FA3E0" stroke="#4FA3E0" textLength="16.2" lengthAdjust="spacingAndGlyphs" >LiF</text>
<text x="789.9" y="668.0" font-size="12.6" fill="#4FA3E0" stroke="#4FA3E0" textLength="16.4" lengthAdjust="spacingAndGlyphs" >LiF</text>
<text x="877.7" y="558.1" font-size="12.6" fill="#F0A36E" stroke="#F0A36E" textLength="63.3" lengthAdjust="spacingAndGlyphs">AlF<tspan font-size="8.4" dy="2.6">3</tspan><tspan dy="-2.6">/MgF</tspan><tspan font-size="8.4" dy="2.6">2</tspan></text>
</svg></body></html>
